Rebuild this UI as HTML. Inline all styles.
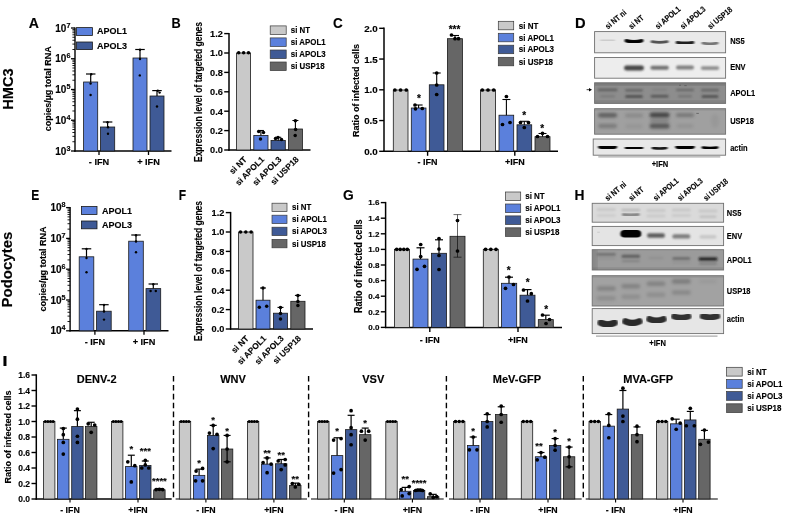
<!DOCTYPE html>
<html><head><meta charset="utf-8"><title>Figure</title>
<style>html,body{margin:0;padding:0;background:#fff}svg{display:block}text{font-family:"Liberation Sans",sans-serif;fill:#000;stroke:#000;stroke-width:0.15px}</style>
</head><body>
<svg width="787" height="516" viewBox="0 0 787 516">
<rect width="787" height="516" fill="#fff"/>
<g opacity="0.999">
<text x="13" y="89" font-size="14.6" font-weight="bold" text-anchor="middle" transform="rotate(-90 13 89)" >HMC3</text>
<text x="12.3" y="269.6" font-size="15" font-weight="bold" text-anchor="middle" transform="rotate(-90 12.3 269.6)" >Podocytes</text>
<text transform="translate(28.7 27.7) scale(0.94 1)" font-size="15" font-weight="bold" stroke="#000" stroke-width="0.45">A</text>
<text transform="translate(171.6 27.7) scale(0.85 1)" font-size="15" font-weight="bold" stroke="#000" stroke-width="0.45">B</text>
<text transform="translate(333 27.7) scale(0.9 1)" font-size="15" font-weight="bold" stroke="#000" stroke-width="0.45">C</text>
<text transform="translate(575 27.7) scale(0.98 1)" font-size="15" font-weight="bold" stroke="#000" stroke-width="0.45">D</text>
<text transform="translate(31.2 199.5) scale(0.8 1)" font-size="15" font-weight="bold" stroke="#000" stroke-width="0.45">E</text>
<text transform="translate(178.8 199.5) scale(0.8 1)" font-size="15" font-weight="bold" stroke="#000" stroke-width="0.45">F</text>
<text transform="translate(343 200) scale(0.92 1)" font-size="15" font-weight="bold" stroke="#000" stroke-width="0.45">G</text>
<text transform="translate(574.4 200) scale(0.92 1)" font-size="15" font-weight="bold" stroke="#000" stroke-width="0.45">H</text>
<text transform="translate(2.2 365.7) scale(1.3 1)" font-size="15" font-weight="bold" stroke="#000" stroke-width="0.45">I</text>
<line x1="75" y1="27.4" x2="75" y2="151.7" stroke="#000" stroke-width="1.4" />
<line x1="74.3" y1="151" x2="171.5" y2="151" stroke="#000" stroke-width="1.4" />
<line x1="71" y1="28.0" x2="75" y2="28.0" stroke="#000" stroke-width="1.3" />
<text x="70.4" y="31.6" font-size="10" font-weight="bold" text-anchor="end">10<tspan font-size="7.2" dy="-4">7</tspan></text>
<line x1="72.4" y1="49.49332763333258" x2="75" y2="49.49332763333258" stroke="#000" stroke-width="0.9" />
<line x1="72.4" y1="44.07852141737038" x2="75" y2="44.07852141737038" stroke="#000" stroke-width="0.9" />
<line x1="72.4" y1="40.23665526666515" x2="75" y2="40.23665526666515" stroke="#000" stroke-width="0.9" />
<line x1="72.4" y1="37.256672366667416" x2="75" y2="37.256672366667416" stroke="#000" stroke-width="0.9" />
<line x1="72.4" y1="34.82184905070296" x2="75" y2="34.82184905070296" stroke="#000" stroke-width="0.9" />
<line x1="72.4" y1="32.763235269561605" x2="75" y2="32.763235269561605" stroke="#000" stroke-width="0.9" />
<line x1="72.4" y1="30.979982899997736" x2="75" y2="30.979982899997736" stroke="#000" stroke-width="0.9" />
<line x1="72.4" y1="29.40704283474076" x2="75" y2="29.40704283474076" stroke="#000" stroke-width="0.9" />
<line x1="71" y1="58.75" x2="75" y2="58.75" stroke="#000" stroke-width="1.3" />
<text x="70.4" y="62.35" font-size="10" font-weight="bold" text-anchor="end">10<tspan font-size="7.2" dy="-4">6</tspan></text>
<line x1="72.4" y1="80.24332763333258" x2="75" y2="80.24332763333258" stroke="#000" stroke-width="0.9" />
<line x1="72.4" y1="74.82852141737038" x2="75" y2="74.82852141737038" stroke="#000" stroke-width="0.9" />
<line x1="72.4" y1="70.98665526666515" x2="75" y2="70.98665526666515" stroke="#000" stroke-width="0.9" />
<line x1="72.4" y1="68.00667236666742" x2="75" y2="68.00667236666742" stroke="#000" stroke-width="0.9" />
<line x1="72.4" y1="65.57184905070295" x2="75" y2="65.57184905070295" stroke="#000" stroke-width="0.9" />
<line x1="72.4" y1="63.513235269561605" x2="75" y2="63.513235269561605" stroke="#000" stroke-width="0.9" />
<line x1="72.4" y1="61.72998289999774" x2="75" y2="61.72998289999774" stroke="#000" stroke-width="0.9" />
<line x1="72.4" y1="60.157042834740764" x2="75" y2="60.157042834740764" stroke="#000" stroke-width="0.9" />
<line x1="71" y1="89.5" x2="75" y2="89.5" stroke="#000" stroke-width="1.3" />
<text x="70.4" y="93.1" font-size="10" font-weight="bold" text-anchor="end">10<tspan font-size="7.2" dy="-4">5</tspan></text>
<line x1="72.4" y1="110.99332763333258" x2="75" y2="110.99332763333258" stroke="#000" stroke-width="0.9" />
<line x1="72.4" y1="105.57852141737038" x2="75" y2="105.57852141737038" stroke="#000" stroke-width="0.9" />
<line x1="72.4" y1="101.73665526666515" x2="75" y2="101.73665526666515" stroke="#000" stroke-width="0.9" />
<line x1="72.4" y1="98.75667236666742" x2="75" y2="98.75667236666742" stroke="#000" stroke-width="0.9" />
<line x1="72.4" y1="96.32184905070295" x2="75" y2="96.32184905070295" stroke="#000" stroke-width="0.9" />
<line x1="72.4" y1="94.2632352695616" x2="75" y2="94.2632352695616" stroke="#000" stroke-width="0.9" />
<line x1="72.4" y1="92.47998289999774" x2="75" y2="92.47998289999774" stroke="#000" stroke-width="0.9" />
<line x1="72.4" y1="90.90704283474076" x2="75" y2="90.90704283474076" stroke="#000" stroke-width="0.9" />
<line x1="71" y1="120.25" x2="75" y2="120.25" stroke="#000" stroke-width="1.3" />
<text x="70.4" y="123.85" font-size="10" font-weight="bold" text-anchor="end">10<tspan font-size="7.2" dy="-4">4</tspan></text>
<line x1="72.4" y1="141.74332763333257" x2="75" y2="141.74332763333257" stroke="#000" stroke-width="0.9" />
<line x1="72.4" y1="136.32852141737038" x2="75" y2="136.32852141737038" stroke="#000" stroke-width="0.9" />
<line x1="72.4" y1="132.48665526666517" x2="75" y2="132.48665526666517" stroke="#000" stroke-width="0.9" />
<line x1="72.4" y1="129.50667236666743" x2="75" y2="129.50667236666743" stroke="#000" stroke-width="0.9" />
<line x1="72.4" y1="127.07184905070295" x2="75" y2="127.07184905070295" stroke="#000" stroke-width="0.9" />
<line x1="72.4" y1="125.0132352695616" x2="75" y2="125.0132352695616" stroke="#000" stroke-width="0.9" />
<line x1="72.4" y1="123.22998289999774" x2="75" y2="123.22998289999774" stroke="#000" stroke-width="0.9" />
<line x1="72.4" y1="121.65704283474076" x2="75" y2="121.65704283474076" stroke="#000" stroke-width="0.9" />
<line x1="71" y1="151.0" x2="75" y2="151.0" stroke="#000" stroke-width="1.3" />
<text x="70.4" y="154.6" font-size="10" font-weight="bold" text-anchor="end">10<tspan font-size="7.2" dy="-4">3</tspan></text>
<line x1="99" y1="151" x2="99" y2="155" stroke="#000" stroke-width="1.3" />
<text x="99" y="165.2" font-size="9.2" font-weight="bold" text-anchor="middle" >- IFN</text>
<line x1="148.5" y1="151" x2="148.5" y2="155" stroke="#000" stroke-width="1.3" />
<text x="148.5" y="165.2" font-size="9.2" font-weight="bold" text-anchor="middle" >+ IFN</text>
<rect x="83.60" y="82.00" width="14.10" height="69.00" fill="#5b80dc" stroke="#1a1a1a" stroke-width="0.8" />
<rect x="100.50" y="127.00" width="14.20" height="24.00" fill="#3f5a96" stroke="#1a1a1a" stroke-width="0.8" />
<rect x="133.00" y="58.00" width="14.00" height="93.00" fill="#5b80dc" stroke="#1a1a1a" stroke-width="0.8" />
<rect x="150.00" y="96.00" width="14.00" height="55.00" fill="#3f5a96" stroke="#1a1a1a" stroke-width="0.8" />
<line x1="90.7" y1="74" x2="90.7" y2="82" stroke="#000" stroke-width="1.2" />
<line x1="85.95" y1="74" x2="95.45" y2="74" stroke="#000" stroke-width="1.2" />
<line x1="107.6" y1="122" x2="107.6" y2="127" stroke="#000" stroke-width="1.2" />
<line x1="102.85" y1="122" x2="112.35" y2="122" stroke="#000" stroke-width="1.2" />
<line x1="140" y1="49.5" x2="140" y2="58" stroke="#000" stroke-width="1.2" />
<line x1="135.25" y1="49.5" x2="144.75" y2="49.5" stroke="#000" stroke-width="1.2" />
<line x1="157" y1="90.6" x2="157" y2="96" stroke="#000" stroke-width="1.2" />
<line x1="152.25" y1="90.6" x2="161.75" y2="90.6" stroke="#000" stroke-width="1.2" />
<circle cx="90.60" cy="83.50" r="1.2" fill="#000"/>
<circle cx="90.60" cy="95.00" r="1.2" fill="#000"/>
<circle cx="91.20" cy="74.30" r="1.2" fill="#000"/>
<circle cx="108.00" cy="133.70" r="1.2" fill="#000"/>
<circle cx="108.00" cy="127.20" r="1.2" fill="#000"/>
<circle cx="107.50" cy="122.30" r="1.2" fill="#000"/>
<circle cx="140.00" cy="59.00" r="1.2" fill="#000"/>
<circle cx="139.80" cy="75.40" r="1.2" fill="#000"/>
<circle cx="140.00" cy="49.80" r="1.2" fill="#000"/>
<circle cx="157.00" cy="106.50" r="1.2" fill="#000"/>
<circle cx="159.60" cy="92.60" r="1.2" fill="#000"/>
<circle cx="157.80" cy="90.80" r="1.2" fill="#000"/>
<rect x="76.50" y="27.60" width="15.90" height="7.80" fill="#5b80dc" stroke="#1a1a1a" stroke-width="0.8" />
<text x="97" y="34.2" font-size="9" font-weight="bold" text-anchor="start" >APOL1</text>
<rect x="76.50" y="42.00" width="15.90" height="7.60" fill="#3f5a96" stroke="#1a1a1a" stroke-width="0.8" />
<text x="97" y="48.7" font-size="9" font-weight="bold" text-anchor="start" >APOL3</text>
<text x="50.6" y="88.8" font-size="9.8" font-weight="bold" text-anchor="middle" transform="rotate(-90 50.6 88.8)" textLength="85" lengthAdjust="spacingAndGlyphs" stroke="#000" stroke-width="0.2">copies/µg total RNA</text>
<line x1="70.1" y1="207.0" x2="70.1" y2="331.5" stroke="#000" stroke-width="1.4" />
<line x1="69.39999999999999" y1="330.8" x2="168.5" y2="330.8" stroke="#000" stroke-width="1.4" />
<line x1="66.1" y1="207.6" x2="70.1" y2="207.6" stroke="#000" stroke-width="1.3" />
<text x="65.5" y="211.2" font-size="10" font-weight="bold" text-anchor="end">10<tspan font-size="7.2" dy="-4">8</tspan></text>
<line x1="67.5" y1="229.12827613354938" x2="70.1" y2="229.12827613354938" stroke="#000" stroke-width="0.9" />
<line x1="67.5" y1="223.70466535463441" x2="70.1" y2="223.70466535463441" stroke="#000" stroke-width="0.9" />
<line x1="67.5" y1="219.85655226709875" x2="70.1" y2="219.85655226709875" stroke="#000" stroke-width="0.9" />
<line x1="67.5" y1="216.87172386645062" x2="70.1" y2="216.87172386645062" stroke="#000" stroke-width="0.9" />
<line x1="67.5" y1="214.4329414881838" x2="70.1" y2="214.4329414881838" stroke="#000" stroke-width="0.9" />
<line x1="67.5" y1="212.3709803675609" x2="70.1" y2="212.3709803675609" stroke="#000" stroke-width="0.9" />
<line x1="67.5" y1="210.58482840064815" x2="70.1" y2="210.58482840064815" stroke="#000" stroke-width="0.9" />
<line x1="67.5" y1="209.0093307092688" x2="70.1" y2="209.0093307092688" stroke="#000" stroke-width="0.9" />
<line x1="66.1" y1="238.4" x2="70.1" y2="238.4" stroke="#000" stroke-width="1.3" />
<text x="65.5" y="242.0" font-size="10" font-weight="bold" text-anchor="end">10<tspan font-size="7.2" dy="-4">7</tspan></text>
<line x1="67.5" y1="259.9282761335494" x2="70.1" y2="259.9282761335494" stroke="#000" stroke-width="0.9" />
<line x1="67.5" y1="254.50466535463437" x2="70.1" y2="254.50466535463437" stroke="#000" stroke-width="0.9" />
<line x1="67.5" y1="250.65655226709873" x2="70.1" y2="250.65655226709873" stroke="#000" stroke-width="0.9" />
<line x1="67.5" y1="247.6717238664506" x2="70.1" y2="247.6717238664506" stroke="#000" stroke-width="0.9" />
<line x1="67.5" y1="245.23294148818377" x2="70.1" y2="245.23294148818377" stroke="#000" stroke-width="0.9" />
<line x1="67.5" y1="243.17098036756087" x2="70.1" y2="243.17098036756087" stroke="#000" stroke-width="0.9" />
<line x1="67.5" y1="241.38482840064813" x2="70.1" y2="241.38482840064813" stroke="#000" stroke-width="0.9" />
<line x1="67.5" y1="239.80933070926878" x2="70.1" y2="239.80933070926878" stroke="#000" stroke-width="0.9" />
<line x1="66.1" y1="269.2" x2="70.1" y2="269.2" stroke="#000" stroke-width="1.3" />
<text x="65.5" y="272.8" font-size="10" font-weight="bold" text-anchor="end">10<tspan font-size="7.2" dy="-4">6</tspan></text>
<line x1="67.5" y1="290.7282761335494" x2="70.1" y2="290.7282761335494" stroke="#000" stroke-width="0.9" />
<line x1="67.5" y1="285.3046653546344" x2="70.1" y2="285.3046653546344" stroke="#000" stroke-width="0.9" />
<line x1="67.5" y1="281.45655226709874" x2="70.1" y2="281.45655226709874" stroke="#000" stroke-width="0.9" />
<line x1="67.5" y1="278.4717238664506" x2="70.1" y2="278.4717238664506" stroke="#000" stroke-width="0.9" />
<line x1="67.5" y1="276.0329414881838" x2="70.1" y2="276.0329414881838" stroke="#000" stroke-width="0.9" />
<line x1="67.5" y1="273.9709803675609" x2="70.1" y2="273.9709803675609" stroke="#000" stroke-width="0.9" />
<line x1="67.5" y1="272.18482840064814" x2="70.1" y2="272.18482840064814" stroke="#000" stroke-width="0.9" />
<line x1="67.5" y1="270.60933070926876" x2="70.1" y2="270.60933070926876" stroke="#000" stroke-width="0.9" />
<line x1="66.1" y1="300.0" x2="70.1" y2="300.0" stroke="#000" stroke-width="1.3" />
<text x="65.5" y="303.6" font-size="10" font-weight="bold" text-anchor="end">10<tspan font-size="7.2" dy="-4">5</tspan></text>
<line x1="67.5" y1="321.5282761335494" x2="70.1" y2="321.5282761335494" stroke="#000" stroke-width="0.9" />
<line x1="67.5" y1="316.1046653546344" x2="70.1" y2="316.1046653546344" stroke="#000" stroke-width="0.9" />
<line x1="67.5" y1="312.25655226709875" x2="70.1" y2="312.25655226709875" stroke="#000" stroke-width="0.9" />
<line x1="67.5" y1="309.27172386645066" x2="70.1" y2="309.27172386645066" stroke="#000" stroke-width="0.9" />
<line x1="67.5" y1="306.8329414881838" x2="70.1" y2="306.8329414881838" stroke="#000" stroke-width="0.9" />
<line x1="67.5" y1="304.7709803675609" x2="70.1" y2="304.7709803675609" stroke="#000" stroke-width="0.9" />
<line x1="67.5" y1="302.98482840064815" x2="70.1" y2="302.98482840064815" stroke="#000" stroke-width="0.9" />
<line x1="67.5" y1="301.40933070926883" x2="70.1" y2="301.40933070926883" stroke="#000" stroke-width="0.9" />
<line x1="66.1" y1="330.8" x2="70.1" y2="330.8" stroke="#000" stroke-width="1.3" />
<text x="65.5" y="334.40000000000003" font-size="10" font-weight="bold" text-anchor="end">10<tspan font-size="7.2" dy="-4">4</tspan></text>
<line x1="94.9" y1="330.8" x2="94.9" y2="334.8" stroke="#000" stroke-width="1.3" />
<text x="94.9" y="345.0" font-size="9.2" font-weight="bold" text-anchor="middle" >- IFN</text>
<line x1="144" y1="330.8" x2="144" y2="334.8" stroke="#000" stroke-width="1.3" />
<text x="144" y="345.0" font-size="9.2" font-weight="bold" text-anchor="middle" >+ IFN</text>
<rect x="79.20" y="256.80" width="14.60" height="74.00" fill="#5b80dc" stroke="#1a1a1a" stroke-width="0.8" />
<rect x="96.60" y="311.20" width="14.60" height="19.60" fill="#3f5a96" stroke="#1a1a1a" stroke-width="0.8" />
<rect x="128.70" y="241.20" width="14.60" height="89.60" fill="#5b80dc" stroke="#1a1a1a" stroke-width="0.8" />
<rect x="146.00" y="288.60" width="14.70" height="42.20" fill="#3f5a96" stroke="#1a1a1a" stroke-width="0.8" />
<line x1="86.5" y1="248.8" x2="86.5" y2="256.8" stroke="#000" stroke-width="1.2" />
<line x1="81.75" y1="248.8" x2="91.25" y2="248.8" stroke="#000" stroke-width="1.2" />
<line x1="103.9" y1="304.7" x2="103.9" y2="311.2" stroke="#000" stroke-width="1.2" />
<line x1="99.15" y1="304.7" x2="108.65" y2="304.7" stroke="#000" stroke-width="1.2" />
<line x1="136" y1="235" x2="136" y2="241.2" stroke="#000" stroke-width="1.2" />
<line x1="131.25" y1="235" x2="140.75" y2="235" stroke="#000" stroke-width="1.2" />
<line x1="153.3" y1="284" x2="153.3" y2="288.6" stroke="#000" stroke-width="1.2" />
<line x1="148.55" y1="284" x2="158.05" y2="284" stroke="#000" stroke-width="1.2" />
<circle cx="86.50" cy="258.00" r="1.2" fill="#000"/>
<circle cx="86.50" cy="272.30" r="1.2" fill="#000"/>
<circle cx="86.50" cy="249.00" r="1.2" fill="#000"/>
<circle cx="104.00" cy="319.60" r="1.2" fill="#000"/>
<circle cx="104.00" cy="311.50" r="1.2" fill="#000"/>
<circle cx="104.00" cy="305.00" r="1.2" fill="#000"/>
<circle cx="136.00" cy="252.30" r="1.2" fill="#000"/>
<circle cx="136.00" cy="241.50" r="1.2" fill="#000"/>
<circle cx="136.00" cy="235.20" r="1.2" fill="#000"/>
<circle cx="150.60" cy="291.00" r="1.2" fill="#000"/>
<circle cx="155.80" cy="291.00" r="1.2" fill="#000"/>
<circle cx="153.30" cy="284.30" r="1.2" fill="#000"/>
<rect x="81.40" y="206.50" width="15.60" height="8.00" fill="#5b80dc" stroke="#1a1a1a" stroke-width="0.8" />
<text x="102" y="213.6" font-size="9" font-weight="bold" text-anchor="start" >APOL1</text>
<rect x="81.40" y="221.00" width="15.60" height="7.80" fill="#3f5a96" stroke="#1a1a1a" stroke-width="0.8" />
<text x="102" y="228" font-size="9" font-weight="bold" text-anchor="start" >APOL3</text>
<text x="46.2" y="269" font-size="9.8" font-weight="bold" text-anchor="middle" transform="rotate(-90 46.2 269)" textLength="85" lengthAdjust="spacingAndGlyphs" stroke="#000" stroke-width="0.2">copies/µg total RNA</text>
<line x1="229" y1="32.9" x2="229" y2="150.7" stroke="#000" stroke-width="1.5" />
<line x1="228.4" y1="150" x2="310.5" y2="150" stroke="#000" stroke-width="1.5" />
<line x1="224.2" y1="150.0" x2="229" y2="150.0" stroke="#000" stroke-width="1.4" />
<text x="222.79999999999998" y="153.312" font-size="9.2" font-weight="bold" text-anchor="end" >0.0</text>
<line x1="224.2" y1="130.6" x2="229" y2="130.6" stroke="#000" stroke-width="1.4" />
<text x="222.79999999999998" y="133.912" font-size="9.2" font-weight="bold" text-anchor="end" >0.2</text>
<line x1="224.2" y1="111.19999999999999" x2="229" y2="111.19999999999999" stroke="#000" stroke-width="1.4" />
<text x="222.79999999999998" y="114.51199999999999" font-size="9.2" font-weight="bold" text-anchor="end" >0.4</text>
<line x1="224.2" y1="91.79999999999998" x2="229" y2="91.79999999999998" stroke="#000" stroke-width="1.4" />
<text x="222.79999999999998" y="95.11199999999998" font-size="9.2" font-weight="bold" text-anchor="end" >0.6</text>
<line x1="224.2" y1="72.39999999999999" x2="229" y2="72.39999999999999" stroke="#000" stroke-width="1.4" />
<text x="222.79999999999998" y="75.71199999999999" font-size="9.2" font-weight="bold" text-anchor="end" >0.8</text>
<line x1="224.2" y1="53.0" x2="229" y2="53.0" stroke="#000" stroke-width="1.4" />
<text x="222.79999999999998" y="56.312" font-size="9.2" font-weight="bold" text-anchor="end" >1.0</text>
<line x1="224.2" y1="33.59999999999998" x2="229" y2="33.59999999999998" stroke="#000" stroke-width="1.4" />
<text x="222.79999999999998" y="36.91199999999998" font-size="9.2" font-weight="bold" text-anchor="end" >1.2</text>
<rect x="236.50" y="53.00" width="14.10" height="97.00" fill="#c9c9c9" stroke="#1a1a1a" stroke-width="0.8" />
<rect x="253.80" y="135.40" width="14.20" height="14.60" fill="#5b80dc" stroke="#1a1a1a" stroke-width="0.8" />
<rect x="271.00" y="140.40" width="14.30" height="9.60" fill="#3f5a96" stroke="#1a1a1a" stroke-width="0.8" />
<rect x="288.40" y="129.00" width="14.00" height="21.00" fill="#666666" stroke="#1a1a1a" stroke-width="0.8" />
<line x1="260.9" y1="130.5" x2="260.9" y2="135.4" stroke="#000" stroke-width="1.1" />
<line x1="257.9" y1="130.5" x2="263.9" y2="130.5" stroke="#000" stroke-width="1.1" />
<line x1="278.2" y1="137.3" x2="278.2" y2="140.4" stroke="#000" stroke-width="1.1" />
<line x1="275.2" y1="137.3" x2="281.2" y2="137.3" stroke="#000" stroke-width="1.1" />
<line x1="295.4" y1="120.5" x2="295.4" y2="129" stroke="#000" stroke-width="1.1" />
<line x1="292.4" y1="120.5" x2="298.4" y2="120.5" stroke="#000" stroke-width="1.1" />
<circle cx="238.70" cy="52.80" r="1.75" fill="#000"/>
<circle cx="243.60" cy="52.80" r="1.75" fill="#000"/>
<circle cx="248.50" cy="52.80" r="1.75" fill="#000"/>
<circle cx="258.70" cy="131.50" r="1.75" fill="#000"/>
<circle cx="263.50" cy="132.50" r="1.75" fill="#000"/>
<circle cx="260.50" cy="139.00" r="1.75" fill="#000"/>
<circle cx="275.50" cy="138.50" r="1.75" fill="#000"/>
<circle cx="281.50" cy="139.50" r="1.75" fill="#000"/>
<circle cx="278.00" cy="137.50" r="1.75" fill="#000"/>
<circle cx="295.40" cy="120.70" r="1.75" fill="#000"/>
<circle cx="295.60" cy="129.50" r="1.75" fill="#000"/>
<circle cx="295.20" cy="135.50" r="1.75" fill="#000"/>
<rect x="270.20" y="25.90" width="16.00" height="8.60" fill="#c9c9c9" stroke="#3a3a3a" stroke-width="0.7" />
<text transform="translate(290.8 33.20) scale(0.925 1)" font-size="8.55" font-weight="bold" stroke="#000" stroke-width="0.18">si NT</text>
<rect x="270.20" y="37.90" width="16.00" height="8.60" fill="#5b80dc" stroke="#3a3a3a" stroke-width="0.7" />
<text transform="translate(290.8 45.20) scale(0.925 1)" font-size="8.55" font-weight="bold" stroke="#000" stroke-width="0.18">si APOL1</text>
<rect x="270.20" y="50.00" width="16.00" height="8.60" fill="#3f5a96" stroke="#3a3a3a" stroke-width="0.7" />
<text transform="translate(290.8 57.30) scale(0.925 1)" font-size="8.55" font-weight="bold" stroke="#000" stroke-width="0.18">si APOL3</text>
<rect x="270.20" y="62.00" width="16.00" height="8.60" fill="#666666" stroke="#3a3a3a" stroke-width="0.7" />
<text transform="translate(290.8 69.30) scale(0.925 1)" font-size="8.55" font-weight="bold" stroke="#000" stroke-width="0.18">si USP18</text>
<text x="247.3" y="160" font-size="8.4" font-weight="bold" text-anchor="end" transform="rotate(-45 247.3 160)" >si NT</text>
<text x="264.8" y="160" font-size="8.4" font-weight="bold" text-anchor="end" transform="rotate(-45 264.8 160)" >si APOL1</text>
<text x="282.1" y="160" font-size="8.4" font-weight="bold" text-anchor="end" transform="rotate(-45 282.1 160)" >si APOL3</text>
<text x="299.3" y="160" font-size="8.4" font-weight="bold" text-anchor="end" transform="rotate(-45 299.3 160)" >si USP18</text>
<text x="202" y="92" font-size="10" font-weight="bold" text-anchor="middle" transform="rotate(-90 202 92)" textLength="140" lengthAdjust="spacingAndGlyphs" stroke="#000" stroke-width="0.25">Expression level of targeted genes</text>
<line x1="230.6" y1="211.9" x2="230.6" y2="329.7" stroke="#000" stroke-width="1.5" />
<line x1="230" y1="329" x2="313" y2="329" stroke="#000" stroke-width="1.5" />
<line x1="225.79999999999998" y1="329.0" x2="230.6" y2="329.0" stroke="#000" stroke-width="1.4" />
<text x="224.39999999999998" y="332.312" font-size="9.2" font-weight="bold" text-anchor="end" >0.0</text>
<line x1="225.79999999999998" y1="309.6" x2="230.6" y2="309.6" stroke="#000" stroke-width="1.4" />
<text x="224.39999999999998" y="312.91200000000003" font-size="9.2" font-weight="bold" text-anchor="end" >0.2</text>
<line x1="225.79999999999998" y1="290.2" x2="230.6" y2="290.2" stroke="#000" stroke-width="1.4" />
<text x="224.39999999999998" y="293.512" font-size="9.2" font-weight="bold" text-anchor="end" >0.4</text>
<line x1="225.79999999999998" y1="270.8" x2="230.6" y2="270.8" stroke="#000" stroke-width="1.4" />
<text x="224.39999999999998" y="274.112" font-size="9.2" font-weight="bold" text-anchor="end" >0.6</text>
<line x1="225.79999999999998" y1="251.39999999999998" x2="230.6" y2="251.39999999999998" stroke="#000" stroke-width="1.4" />
<text x="224.39999999999998" y="254.712" font-size="9.2" font-weight="bold" text-anchor="end" >0.8</text>
<line x1="225.79999999999998" y1="232.0" x2="230.6" y2="232.0" stroke="#000" stroke-width="1.4" />
<text x="224.39999999999998" y="235.312" font-size="9.2" font-weight="bold" text-anchor="end" >1.0</text>
<line x1="225.79999999999998" y1="212.59999999999997" x2="230.6" y2="212.59999999999997" stroke="#000" stroke-width="1.4" />
<text x="224.39999999999998" y="215.91199999999998" font-size="9.2" font-weight="bold" text-anchor="end" >1.2</text>
<rect x="238.60" y="232.00" width="14.40" height="97.00" fill="#c9c9c9" stroke="#1a1a1a" stroke-width="0.8" />
<rect x="256.00" y="300.20" width="14.00" height="28.80" fill="#5b80dc" stroke="#1a1a1a" stroke-width="0.8" />
<rect x="273.40" y="313.20" width="14.10" height="15.80" fill="#3f5a96" stroke="#1a1a1a" stroke-width="0.8" />
<rect x="290.80" y="301.30" width="14.20" height="27.70" fill="#666666" stroke="#1a1a1a" stroke-width="0.8" />
<line x1="263" y1="288" x2="263" y2="300.2" stroke="#000" stroke-width="1.1" />
<line x1="260.0" y1="288" x2="266.0" y2="288" stroke="#000" stroke-width="1.1" />
<line x1="280.5" y1="307.4" x2="280.5" y2="313.2" stroke="#000" stroke-width="1.1" />
<line x1="277.5" y1="307.4" x2="283.5" y2="307.4" stroke="#000" stroke-width="1.1" />
<line x1="297.9" y1="295.4" x2="297.9" y2="301.3" stroke="#000" stroke-width="1.1" />
<line x1="294.9" y1="295.4" x2="300.9" y2="295.4" stroke="#000" stroke-width="1.1" />
<circle cx="240.50" cy="232.00" r="1.75" fill="#000"/>
<circle cx="245.80" cy="232.00" r="1.75" fill="#000"/>
<circle cx="251.10" cy="232.00" r="1.75" fill="#000"/>
<circle cx="263.00" cy="288.00" r="1.75" fill="#000"/>
<circle cx="259.30" cy="307.30" r="1.75" fill="#000"/>
<circle cx="266.70" cy="306.30" r="1.75" fill="#000"/>
<circle cx="280.50" cy="307.50" r="1.75" fill="#000"/>
<circle cx="280.50" cy="319.00" r="1.75" fill="#000"/>
<circle cx="280.50" cy="313.50" r="1.75" fill="#000"/>
<circle cx="297.90" cy="295.50" r="1.75" fill="#000"/>
<circle cx="297.90" cy="301.50" r="1.75" fill="#000"/>
<circle cx="297.90" cy="305.50" r="1.75" fill="#000"/>
<rect x="272.00" y="203.20" width="15.00" height="8.40" fill="#c9c9c9" stroke="#3a3a3a" stroke-width="0.7" />
<text transform="translate(292 210.30) scale(0.925 1)" font-size="8.55" font-weight="bold" stroke="#000" stroke-width="0.18">si NT</text>
<rect x="272.00" y="215.20" width="15.00" height="8.40" fill="#5b80dc" stroke="#3a3a3a" stroke-width="0.7" />
<text transform="translate(292 222.30) scale(0.925 1)" font-size="8.55" font-weight="bold" stroke="#000" stroke-width="0.18">si APOL1</text>
<rect x="272.00" y="227.20" width="15.00" height="8.40" fill="#3f5a96" stroke="#3a3a3a" stroke-width="0.7" />
<text transform="translate(292 234.30) scale(0.925 1)" font-size="8.55" font-weight="bold" stroke="#000" stroke-width="0.18">si APOL3</text>
<rect x="272.00" y="239.40" width="15.00" height="8.40" fill="#666666" stroke="#3a3a3a" stroke-width="0.7" />
<text transform="translate(292 246.50) scale(0.925 1)" font-size="8.55" font-weight="bold" stroke="#000" stroke-width="0.18">si USP18</text>
<text x="249.3" y="339" font-size="8.4" font-weight="bold" text-anchor="end" transform="rotate(-45 249.3 339)" >si NT</text>
<text x="266.8" y="339" font-size="8.4" font-weight="bold" text-anchor="end" transform="rotate(-45 266.8 339)" >si APOL1</text>
<text x="284.3" y="339" font-size="8.4" font-weight="bold" text-anchor="end" transform="rotate(-45 284.3 339)" >si APOL3</text>
<text x="301.5" y="339" font-size="8.4" font-weight="bold" text-anchor="end" transform="rotate(-45 301.5 339)" >si USP18</text>
<text x="202" y="271" font-size="10" font-weight="bold" text-anchor="middle" transform="rotate(-90 202 271)" textLength="140" lengthAdjust="spacingAndGlyphs" stroke="#000" stroke-width="0.25">Expression level of targeted genes</text>
<line x1="384" y1="27.6" x2="384" y2="152.0" stroke="#000" stroke-width="1.5" />
<line x1="383.3" y1="151.3" x2="558" y2="151.3" stroke="#000" stroke-width="1.5" />
<line x1="379.2" y1="151.3" x2="384" y2="151.3" stroke="#000" stroke-width="1.4" />
<text x="377.8" y="154.828" font-size="9.8" font-weight="bold" text-anchor="end" >0.0</text>
<line x1="379.2" y1="120.55000000000001" x2="384" y2="120.55000000000001" stroke="#000" stroke-width="1.4" />
<text x="377.8" y="124.07800000000002" font-size="9.8" font-weight="bold" text-anchor="end" >0.5</text>
<line x1="379.2" y1="89.80000000000001" x2="384" y2="89.80000000000001" stroke="#000" stroke-width="1.4" />
<text x="377.8" y="93.32800000000002" font-size="9.8" font-weight="bold" text-anchor="end" >1.0</text>
<line x1="379.2" y1="59.05" x2="384" y2="59.05" stroke="#000" stroke-width="1.4" />
<text x="377.8" y="62.577999999999996" font-size="9.8" font-weight="bold" text-anchor="end" >1.5</text>
<line x1="379.2" y1="28.299999999999997" x2="384" y2="28.299999999999997" stroke="#000" stroke-width="1.4" />
<text x="377.8" y="31.827999999999996" font-size="9.8" font-weight="bold" text-anchor="end" >2.0</text>
<rect x="393.30" y="90.00" width="14.70" height="61.30" fill="#c9c9c9" stroke="#1a1a1a" stroke-width="0.8" />
<rect x="411.30" y="108.00" width="14.70" height="43.30" fill="#5b80dc" stroke="#1a1a1a" stroke-width="0.8" />
<rect x="429.30" y="84.80" width="14.70" height="66.50" fill="#3f5a96" stroke="#1a1a1a" stroke-width="0.8" />
<rect x="447.40" y="38.70" width="15.00" height="112.60" fill="#666666" stroke="#1a1a1a" stroke-width="0.8" />
<rect x="480.40" y="90.00" width="15.20" height="61.30" fill="#c9c9c9" stroke="#1a1a1a" stroke-width="0.8" />
<rect x="499.00" y="115.20" width="14.70" height="36.10" fill="#5b80dc" stroke="#1a1a1a" stroke-width="0.8" />
<rect x="517.00" y="124.80" width="14.70" height="26.50" fill="#3f5a96" stroke="#1a1a1a" stroke-width="0.8" />
<rect x="535.00" y="136.70" width="15.00" height="14.60" fill="#666666" stroke="#1a1a1a" stroke-width="0.8" />
<line x1="418.6" y1="105" x2="418.6" y2="108" stroke="#000" stroke-width="1.1" />
<line x1="414.6" y1="105" x2="422.6" y2="105" stroke="#000" stroke-width="1.1" />
<line x1="436.7" y1="73" x2="436.7" y2="84.8" stroke="#000" stroke-width="1.1" />
<line x1="432.7" y1="73" x2="440.7" y2="73" stroke="#000" stroke-width="1.1" />
<line x1="455" y1="35.5" x2="455" y2="38.7" stroke="#000" stroke-width="1.1" />
<line x1="451.0" y1="35.5" x2="459.0" y2="35.5" stroke="#000" stroke-width="1.1" />
<line x1="506.4" y1="99.5" x2="506.4" y2="115.2" stroke="#000" stroke-width="1.1" />
<line x1="502.4" y1="99.5" x2="510.4" y2="99.5" stroke="#000" stroke-width="1.1" />
<line x1="524.3" y1="121.3" x2="524.3" y2="124.8" stroke="#000" stroke-width="1.1" />
<line x1="520.3" y1="121.3" x2="528.3" y2="121.3" stroke="#000" stroke-width="1.1" />
<line x1="542.5" y1="133.5" x2="542.5" y2="136.7" stroke="#000" stroke-width="1.1" />
<line x1="538.5" y1="133.5" x2="546.5" y2="133.5" stroke="#000" stroke-width="1.1" />
<circle cx="394.90" cy="90.00" r="1.85" fill="#000"/>
<circle cx="400.60" cy="90.00" r="1.85" fill="#000"/>
<circle cx="406.30" cy="90.00" r="1.85" fill="#000"/>
<circle cx="415.00" cy="105.00" r="1.85" fill="#000"/>
<circle cx="415.50" cy="108.80" r="1.85" fill="#000"/>
<circle cx="422.30" cy="108.50" r="1.85" fill="#000"/>
<circle cx="436.70" cy="73.00" r="1.85" fill="#000"/>
<circle cx="436.70" cy="85.00" r="1.85" fill="#000"/>
<circle cx="436.70" cy="94.50" r="1.85" fill="#000"/>
<circle cx="451.50" cy="35.00" r="1.85" fill="#000"/>
<circle cx="455.00" cy="38.70" r="1.85" fill="#000"/>
<circle cx="458.50" cy="38.70" r="1.85" fill="#000"/>
<circle cx="482.30" cy="90.00" r="1.85" fill="#000"/>
<circle cx="488.00" cy="90.00" r="1.85" fill="#000"/>
<circle cx="493.70" cy="90.00" r="1.85" fill="#000"/>
<circle cx="506.40" cy="96.50" r="1.85" fill="#000"/>
<circle cx="502.50" cy="124.50" r="1.85" fill="#000"/>
<circle cx="510.00" cy="122.50" r="1.85" fill="#000"/>
<circle cx="520.50" cy="122.50" r="1.85" fill="#000"/>
<circle cx="528.50" cy="122.50" r="1.85" fill="#000"/>
<circle cx="524.30" cy="127.50" r="1.85" fill="#000"/>
<circle cx="537.50" cy="136.50" r="1.85" fill="#000"/>
<circle cx="547.50" cy="136.50" r="1.85" fill="#000"/>
<circle cx="542.50" cy="133.30" r="1.85" fill="#000"/>
<text x="419" y="101.7" font-size="10" font-weight="bold" text-anchor="middle" >*</text>
<text x="454.5" y="33.1" font-size="10" font-weight="bold" text-anchor="middle" >***</text>
<text x="524.3" y="119.4" font-size="10" font-weight="bold" text-anchor="middle" >*</text>
<text x="542.3" y="131.8" font-size="10" font-weight="bold" text-anchor="middle" >*</text>
<line x1="427.6" y1="151.3" x2="427.6" y2="155.8" stroke="#000" stroke-width="1.4" />
<text x="427.6" y="165.3" font-size="9" font-weight="bold" text-anchor="middle" >- IFN</text>
<line x1="514.8" y1="151.3" x2="514.8" y2="155.8" stroke="#000" stroke-width="1.4" />
<text x="514.8" y="165.3" font-size="9" font-weight="bold" text-anchor="middle" >+IFN</text>
<rect x="498.30" y="21.30" width="15.40" height="8.50" fill="#c9c9c9" stroke="#3a3a3a" stroke-width="0.7" />
<text transform="translate(518.8 28.50) scale(0.925 1)" font-size="8.65" font-weight="bold" stroke="#000" stroke-width="0.18">si NT</text>
<rect x="498.30" y="33.30" width="15.40" height="8.50" fill="#5b80dc" stroke="#3a3a3a" stroke-width="0.7" />
<text transform="translate(518.8 40.50) scale(0.925 1)" font-size="8.65" font-weight="bold" stroke="#000" stroke-width="0.18">si APOL1</text>
<rect x="498.30" y="45.20" width="15.40" height="8.50" fill="#3f5a96" stroke="#3a3a3a" stroke-width="0.7" />
<text transform="translate(518.8 52.40) scale(0.925 1)" font-size="8.65" font-weight="bold" stroke="#000" stroke-width="0.18">si APOL3</text>
<rect x="498.30" y="57.30" width="15.40" height="8.50" fill="#666666" stroke="#3a3a3a" stroke-width="0.7" />
<text transform="translate(518.8 64.50) scale(0.925 1)" font-size="8.65" font-weight="bold" stroke="#000" stroke-width="0.18">si USP18</text>
<text x="358.7" y="90.5" font-size="9.5" font-weight="bold" text-anchor="middle" transform="rotate(-90 358.7 90.5)" textLength="93" lengthAdjust="spacingAndGlyphs" stroke="#000" stroke-width="0.25">Ratio of infected cells</text>
<line x1="385.6" y1="201.9" x2="385.6" y2="328.09999999999997" stroke="#000" stroke-width="1.5" />
<line x1="385" y1="327.4" x2="562" y2="327.4" stroke="#000" stroke-width="1.5" />
<line x1="380.8" y1="327.4" x2="385.6" y2="327.4" stroke="#000" stroke-width="1.4" />
<text x="379.40000000000003" y="330.28" font-size="8" font-weight="bold" text-anchor="end" >0.0</text>
<line x1="380.8" y1="311.79999999999995" x2="385.6" y2="311.79999999999995" stroke="#000" stroke-width="1.4" />
<text x="379.40000000000003" y="314.67999999999995" font-size="8" font-weight="bold" text-anchor="end" >0.2</text>
<line x1="380.8" y1="296.2" x2="385.6" y2="296.2" stroke="#000" stroke-width="1.4" />
<text x="379.40000000000003" y="299.08" font-size="8" font-weight="bold" text-anchor="end" >0.4</text>
<line x1="380.8" y1="280.59999999999997" x2="385.6" y2="280.59999999999997" stroke="#000" stroke-width="1.4" />
<text x="379.40000000000003" y="283.47999999999996" font-size="8" font-weight="bold" text-anchor="end" >0.6</text>
<line x1="380.8" y1="265.0" x2="385.6" y2="265.0" stroke="#000" stroke-width="1.4" />
<text x="379.40000000000003" y="267.88" font-size="8" font-weight="bold" text-anchor="end" >0.8</text>
<line x1="380.8" y1="249.39999999999998" x2="385.6" y2="249.39999999999998" stroke="#000" stroke-width="1.4" />
<text x="379.40000000000003" y="252.27999999999997" font-size="8" font-weight="bold" text-anchor="end" >1.0</text>
<line x1="380.8" y1="233.79999999999998" x2="385.6" y2="233.79999999999998" stroke="#000" stroke-width="1.4" />
<text x="379.40000000000003" y="236.67999999999998" font-size="8" font-weight="bold" text-anchor="end" >1.2</text>
<line x1="380.8" y1="218.2" x2="385.6" y2="218.2" stroke="#000" stroke-width="1.4" />
<text x="379.40000000000003" y="221.07999999999998" font-size="8" font-weight="bold" text-anchor="end" >1.4</text>
<line x1="380.8" y1="202.6" x2="385.6" y2="202.6" stroke="#000" stroke-width="1.4" />
<text x="379.40000000000003" y="205.48" font-size="8" font-weight="bold" text-anchor="end" >1.6</text>
<rect x="394.50" y="249.30" width="15.00" height="78.10" fill="#c9c9c9" stroke="#1a1a1a" stroke-width="0.8" />
<rect x="413.00" y="259.10" width="15.00" height="68.30" fill="#5b80dc" stroke="#1a1a1a" stroke-width="0.8" />
<rect x="431.50" y="253.30" width="15.00" height="74.10" fill="#3f5a96" stroke="#1a1a1a" stroke-width="0.8" />
<rect x="450.00" y="236.30" width="15.00" height="91.10" fill="#666666" stroke="#1a1a1a" stroke-width="0.8" />
<rect x="483.30" y="249.30" width="15.00" height="78.10" fill="#c9c9c9" stroke="#1a1a1a" stroke-width="0.8" />
<rect x="501.50" y="283.30" width="15.20" height="44.10" fill="#5b80dc" stroke="#1a1a1a" stroke-width="0.8" />
<rect x="520.00" y="295.20" width="15.00" height="32.20" fill="#3f5a96" stroke="#1a1a1a" stroke-width="0.8" />
<rect x="538.30" y="319.60" width="15.00" height="7.80" fill="#666666" stroke="#1a1a1a" stroke-width="0.8" />
<line x1="420.5" y1="247.8" x2="420.5" y2="259.1" stroke="#000" stroke-width="1.2" />
<line x1="416.5" y1="247.8" x2="424.5" y2="247.8" stroke="#000" stroke-width="1.2" />
<line x1="439" y1="239.8" x2="439" y2="253.3" stroke="#000" stroke-width="1.2" />
<line x1="435.0" y1="239.8" x2="443.0" y2="239.8" stroke="#000" stroke-width="1.2" />
<line x1="457.5" y1="214.6" x2="457.5" y2="257.2" stroke="#000" stroke-width="0.6" />
<line x1="453.5" y1="214.6" x2="461.5" y2="214.6" stroke="#000" stroke-width="0.6" />
<line x1="453.5" y1="257.2" x2="461.5" y2="257.2" stroke="#000" stroke-width="0.6" />
<line x1="509" y1="277.2" x2="509" y2="283.3" stroke="#000" stroke-width="1.2" />
<line x1="505.0" y1="277.2" x2="513.0" y2="277.2" stroke="#000" stroke-width="1.2" />
<line x1="527.5" y1="289.6" x2="527.5" y2="295.2" stroke="#000" stroke-width="1.2" />
<line x1="523.5" y1="289.6" x2="531.5" y2="289.6" stroke="#000" stroke-width="1.2" />
<line x1="545.8" y1="315.2" x2="545.8" y2="319.6" stroke="#000" stroke-width="1.2" />
<line x1="541.8" y1="315.2" x2="549.8" y2="315.2" stroke="#000" stroke-width="1.2" />
<circle cx="396.70" cy="249.30" r="1.85" fill="#000"/>
<circle cx="400.20" cy="249.30" r="1.85" fill="#000"/>
<circle cx="403.80" cy="249.30" r="1.85" fill="#000"/>
<circle cx="407.30" cy="249.30" r="1.85" fill="#000"/>
<circle cx="420.70" cy="244.50" r="1.85" fill="#000"/>
<circle cx="420.70" cy="256.50" r="1.85" fill="#000"/>
<circle cx="417.00" cy="269.30" r="1.85" fill="#000"/>
<circle cx="424.50" cy="266.30" r="1.85" fill="#000"/>
<circle cx="439.00" cy="238.50" r="1.85" fill="#000"/>
<circle cx="439.00" cy="249.00" r="1.85" fill="#000"/>
<circle cx="439.00" cy="255.50" r="1.85" fill="#000"/>
<circle cx="439.00" cy="269.50" r="1.85" fill="#000"/>
<circle cx="457.50" cy="220.50" r="1.85" fill="#000"/>
<circle cx="457.50" cy="251.00" r="1.85" fill="#000"/>
<circle cx="485.60" cy="249.30" r="1.85" fill="#000"/>
<circle cx="490.80" cy="249.30" r="1.85" fill="#000"/>
<circle cx="496.00" cy="249.30" r="1.85" fill="#000"/>
<circle cx="509.00" cy="277.00" r="1.85" fill="#000"/>
<circle cx="505.50" cy="288.30" r="1.85" fill="#000"/>
<circle cx="513.50" cy="284.50" r="1.85" fill="#000"/>
<circle cx="523.50" cy="290.00" r="1.85" fill="#000"/>
<circle cx="531.30" cy="293.70" r="1.85" fill="#000"/>
<circle cx="527.50" cy="301.00" r="1.85" fill="#000"/>
<circle cx="542.50" cy="315.00" r="1.85" fill="#000"/>
<circle cx="549.50" cy="319.50" r="1.85" fill="#000"/>
<circle cx="546.00" cy="323.50" r="1.85" fill="#000"/>
<text x="508.7" y="274.0" font-size="10" font-weight="bold" text-anchor="middle" >*</text>
<text x="527.6" y="285.9" font-size="10" font-weight="bold" text-anchor="middle" >*</text>
<text x="546.3" y="313.1" font-size="10" font-weight="bold" text-anchor="middle" >*</text>
<line x1="429.8" y1="327.4" x2="429.8" y2="331.9" stroke="#000" stroke-width="1.4" />
<text x="429.8" y="342.5" font-size="9" font-weight="bold" text-anchor="middle" >- IFN</text>
<line x1="518" y1="327.4" x2="518" y2="331.9" stroke="#000" stroke-width="1.4" />
<text x="518" y="342.5" font-size="9" font-weight="bold" text-anchor="middle" >+IFN</text>
<rect x="505.40" y="192.00" width="15.30" height="8.60" fill="#c9c9c9" stroke="#3a3a3a" stroke-width="0.7" />
<text transform="translate(525.2 199.30) scale(0.925 1)" font-size="8.65" font-weight="bold" stroke="#000" stroke-width="0.18">si NT</text>
<rect x="505.40" y="204.00" width="15.30" height="8.60" fill="#5b80dc" stroke="#3a3a3a" stroke-width="0.7" />
<text transform="translate(525.2 211.30) scale(0.925 1)" font-size="8.65" font-weight="bold" stroke="#000" stroke-width="0.18">si APOL1</text>
<rect x="505.40" y="215.90" width="15.30" height="8.60" fill="#3f5a96" stroke="#3a3a3a" stroke-width="0.7" />
<text transform="translate(525.2 223.20) scale(0.925 1)" font-size="8.65" font-weight="bold" stroke="#000" stroke-width="0.18">si APOL3</text>
<rect x="505.40" y="227.80" width="15.30" height="8.60" fill="#666666" stroke="#3a3a3a" stroke-width="0.7" />
<text transform="translate(525.2 235.10) scale(0.925 1)" font-size="8.65" font-weight="bold" stroke="#000" stroke-width="0.18">si USP18</text>
<text x="362" y="266.3" font-size="10" font-weight="bold" text-anchor="middle" transform="rotate(-90 362 266.3)" textLength="93.5" lengthAdjust="spacingAndGlyphs" stroke="#000" stroke-width="0.25">Ratio of infected cells</text>
<line x1="36.3" y1="374.3" x2="36.3" y2="499.7" stroke="#000" stroke-width="1.5" />
<line x1="35.7" y1="499" x2="171.7" y2="499" stroke="#000" stroke-width="1.5" />
<line x1="31.499999999999996" y1="499.0" x2="36.3" y2="499.0" stroke="#000" stroke-width="1.4" />
<text x="30.099999999999998" y="502.06" font-size="8.5" font-weight="bold" text-anchor="end" >0.0</text>
<line x1="31.499999999999996" y1="483.5" x2="36.3" y2="483.5" stroke="#000" stroke-width="1.4" />
<text x="30.099999999999998" y="486.56" font-size="8.5" font-weight="bold" text-anchor="end" >0.2</text>
<line x1="31.499999999999996" y1="468.0" x2="36.3" y2="468.0" stroke="#000" stroke-width="1.4" />
<text x="30.099999999999998" y="471.06" font-size="8.5" font-weight="bold" text-anchor="end" >0.4</text>
<line x1="31.499999999999996" y1="452.5" x2="36.3" y2="452.5" stroke="#000" stroke-width="1.4" />
<text x="30.099999999999998" y="455.56" font-size="8.5" font-weight="bold" text-anchor="end" >0.6</text>
<line x1="31.499999999999996" y1="437.0" x2="36.3" y2="437.0" stroke="#000" stroke-width="1.4" />
<text x="30.099999999999998" y="440.06" font-size="8.5" font-weight="bold" text-anchor="end" >0.8</text>
<line x1="31.499999999999996" y1="421.5" x2="36.3" y2="421.5" stroke="#000" stroke-width="1.4" />
<text x="30.099999999999998" y="424.56" font-size="8.5" font-weight="bold" text-anchor="end" >1.0</text>
<line x1="31.499999999999996" y1="406.0" x2="36.3" y2="406.0" stroke="#000" stroke-width="1.4" />
<text x="30.099999999999998" y="409.06" font-size="8.5" font-weight="bold" text-anchor="end" >1.2</text>
<line x1="31.499999999999996" y1="390.5" x2="36.3" y2="390.5" stroke="#000" stroke-width="1.4" />
<text x="30.099999999999998" y="393.56" font-size="8.5" font-weight="bold" text-anchor="end" >1.4</text>
<line x1="31.499999999999996" y1="375.0" x2="36.3" y2="375.0" stroke="#000" stroke-width="1.4" />
<text x="30.099999999999998" y="378.06" font-size="8.5" font-weight="bold" text-anchor="end" >1.6</text>
<text x="10.6" y="437" font-size="9.8" font-weight="bold" text-anchor="middle" transform="rotate(-90 10.6 437)" textLength="93" lengthAdjust="spacingAndGlyphs" stroke="#000" stroke-width="0.25">Ratio of infected cells</text>
<text x="96.7" y="382.8" font-size="11" font-weight="bold" text-anchor="middle" >DENV-2</text>
<line x1="70" y1="499" x2="70" y2="502.5" stroke="#000" stroke-width="1.1" />
<text x="70" y="513" font-size="8.8" font-weight="bold" text-anchor="middle" >- IFN</text>
<line x1="138" y1="499" x2="138" y2="502.5" stroke="#000" stroke-width="1.1" />
<text x="138" y="513" font-size="8.8" font-weight="bold" text-anchor="middle" >+IFN</text>
<rect x="43.50" y="421.50" width="11.40" height="77.50" fill="#c9c9c9" stroke="#1a1a1a" stroke-width="0.8" />
<rect x="57.60" y="439.32" width="11.40" height="59.68" fill="#5b80dc" stroke="#1a1a1a" stroke-width="0.8" />
<rect x="71.70" y="426.54" width="11.40" height="72.46" fill="#3f5a96" stroke="#1a1a1a" stroke-width="0.8" />
<rect x="85.50" y="426.54" width="11.40" height="72.46" fill="#666666" stroke="#1a1a1a" stroke-width="0.8" />
<rect x="111.50" y="421.50" width="11.40" height="77.50" fill="#c9c9c9" stroke="#1a1a1a" stroke-width="0.8" />
<rect x="125.60" y="466.45" width="11.40" height="32.55" fill="#5b80dc" stroke="#1a1a1a" stroke-width="0.8" />
<rect x="139.60" y="465.52" width="11.40" height="33.48" fill="#3f5a96" stroke="#1a1a1a" stroke-width="0.8" />
<rect x="153.70" y="489.86" width="11.40" height="9.14" fill="#666666" stroke="#1a1a1a" stroke-width="0.8" />
<line x1="175.6" y1="499" x2="307" y2="499" stroke="#000" stroke-width="1.2" />
<line x1="173.5" y1="376" x2="173.5" y2="500.5" stroke="#000" stroke-width="1.4" stroke-dasharray="5.6 3.3"/>
<text x="233" y="382.8" font-size="11" font-weight="bold" text-anchor="middle" >WNV</text>
<line x1="205.9" y1="499" x2="205.9" y2="502.5" stroke="#000" stroke-width="1.1" />
<text x="205.9" y="513" font-size="8.8" font-weight="bold" text-anchor="middle" >- IFN</text>
<line x1="273.9" y1="499" x2="273.9" y2="502.5" stroke="#000" stroke-width="1.1" />
<text x="273.9" y="513" font-size="8.8" font-weight="bold" text-anchor="middle" >+IFN</text>
<rect x="179.30" y="421.50" width="11.40" height="77.50" fill="#c9c9c9" stroke="#1a1a1a" stroke-width="0.8" />
<rect x="193.40" y="475.36" width="11.40" height="23.64" fill="#5b80dc" stroke="#1a1a1a" stroke-width="0.8" />
<rect x="207.50" y="435.45" width="11.40" height="63.55" fill="#3f5a96" stroke="#1a1a1a" stroke-width="0.8" />
<rect x="221.40" y="449.01" width="11.40" height="49.99" fill="#666666" stroke="#1a1a1a" stroke-width="0.8" />
<rect x="247.40" y="421.50" width="11.40" height="77.50" fill="#c9c9c9" stroke="#1a1a1a" stroke-width="0.8" />
<rect x="261.40" y="464.12" width="11.40" height="34.88" fill="#5b80dc" stroke="#1a1a1a" stroke-width="0.8" />
<rect x="275.50" y="463.74" width="11.40" height="35.26" fill="#3f5a96" stroke="#1a1a1a" stroke-width="0.8" />
<rect x="289.60" y="485.44" width="11.40" height="13.56" fill="#666666" stroke="#1a1a1a" stroke-width="0.8" />
<line x1="311" y1="499" x2="443.7" y2="499" stroke="#000" stroke-width="1.2" />
<line x1="308.6" y1="376" x2="308.6" y2="500.5" stroke="#000" stroke-width="1.4" stroke-dasharray="5.6 3.3"/>
<text x="373.3" y="382.8" font-size="11" font-weight="bold" text-anchor="middle" >VSV</text>
<line x1="344.3" y1="499" x2="344.3" y2="502.5" stroke="#000" stroke-width="1.1" />
<text x="344.3" y="513" font-size="8.8" font-weight="bold" text-anchor="middle" >- IFN</text>
<line x1="412.4" y1="499" x2="412.4" y2="502.5" stroke="#000" stroke-width="1.1" />
<text x="412.4" y="513" font-size="8.8" font-weight="bold" text-anchor="middle" >+IFN</text>
<rect x="317.60" y="421.50" width="11.40" height="77.50" fill="#c9c9c9" stroke="#1a1a1a" stroke-width="0.8" />
<rect x="331.40" y="455.60" width="11.40" height="43.40" fill="#5b80dc" stroke="#1a1a1a" stroke-width="0.8" />
<rect x="345.40" y="429.64" width="11.40" height="69.36" fill="#3f5a96" stroke="#1a1a1a" stroke-width="0.8" />
<rect x="359.50" y="434.68" width="11.40" height="64.32" fill="#666666" stroke="#1a1a1a" stroke-width="0.8" />
<rect x="385.80" y="421.50" width="11.40" height="77.50" fill="#c9c9c9" stroke="#1a1a1a" stroke-width="0.8" />
<rect x="399.50" y="491.25" width="11.40" height="7.75" fill="#5b80dc" stroke="#1a1a1a" stroke-width="0.8" />
<rect x="413.40" y="490.48" width="11.40" height="8.52" fill="#3f5a96" stroke="#1a1a1a" stroke-width="0.8" />
<rect x="427.50" y="496.68" width="11.40" height="2.32" fill="#666666" stroke="#1a1a1a" stroke-width="0.8" />
<line x1="449" y1="499" x2="581.7" y2="499" stroke="#000" stroke-width="1.2" />
<line x1="446.4" y1="376" x2="446.4" y2="500.5" stroke="#000" stroke-width="1.4" stroke-dasharray="5.6 3.3"/>
<text x="517" y="382.8" font-size="11" font-weight="bold" text-anchor="middle" >MeV-GFP</text>
<line x1="480" y1="499" x2="480" y2="502.5" stroke="#000" stroke-width="1.1" />
<text x="480" y="513" font-size="8.8" font-weight="bold" text-anchor="middle" >- IFN</text>
<line x1="548" y1="499" x2="548" y2="502.5" stroke="#000" stroke-width="1.1" />
<text x="548" y="513" font-size="8.8" font-weight="bold" text-anchor="middle" >+IFN</text>
<rect x="453.50" y="421.50" width="11.40" height="77.50" fill="#c9c9c9" stroke="#1a1a1a" stroke-width="0.8" />
<rect x="467.50" y="445.53" width="11.40" height="53.47" fill="#5b80dc" stroke="#1a1a1a" stroke-width="0.8" />
<rect x="481.50" y="421.50" width="11.40" height="77.50" fill="#3f5a96" stroke="#1a1a1a" stroke-width="0.8" />
<rect x="495.50" y="414.52" width="11.40" height="84.48" fill="#666666" stroke="#1a1a1a" stroke-width="0.8" />
<rect x="521.30" y="421.50" width="11.40" height="77.50" fill="#c9c9c9" stroke="#1a1a1a" stroke-width="0.8" />
<rect x="535.30" y="456.76" width="11.40" height="42.24" fill="#5b80dc" stroke="#1a1a1a" stroke-width="0.8" />
<rect x="549.40" y="445.53" width="11.40" height="53.47" fill="#3f5a96" stroke="#1a1a1a" stroke-width="0.8" />
<rect x="563.40" y="456.76" width="11.40" height="42.24" fill="#666666" stroke="#1a1a1a" stroke-width="0.8" />
<line x1="585.7" y1="499" x2="717.8" y2="499" stroke="#000" stroke-width="1.2" />
<line x1="583.3" y1="376" x2="583.3" y2="500.5" stroke="#000" stroke-width="1.4" stroke-dasharray="5.6 3.3"/>
<text x="648.2" y="382.8" font-size="11" font-weight="bold" text-anchor="middle" >MVA-GFP</text>
<line x1="615.6" y1="499" x2="615.6" y2="502.5" stroke="#000" stroke-width="1.1" />
<text x="615.6" y="513" font-size="8.8" font-weight="bold" text-anchor="middle" >- IFN</text>
<line x1="683" y1="499" x2="683" y2="502.5" stroke="#000" stroke-width="1.1" />
<text x="683" y="513" font-size="8.8" font-weight="bold" text-anchor="middle" >+IFN</text>
<rect x="589.00" y="421.50" width="11.40" height="77.50" fill="#c9c9c9" stroke="#1a1a1a" stroke-width="0.8" />
<rect x="603.10" y="426.15" width="11.40" height="72.85" fill="#5b80dc" stroke="#1a1a1a" stroke-width="0.8" />
<rect x="617.20" y="409.10" width="11.40" height="89.90" fill="#3f5a96" stroke="#1a1a1a" stroke-width="0.8" />
<rect x="631.30" y="434.68" width="11.40" height="64.32" fill="#666666" stroke="#1a1a1a" stroke-width="0.8" />
<rect x="656.40" y="421.50" width="11.40" height="77.50" fill="#c9c9c9" stroke="#1a1a1a" stroke-width="0.8" />
<rect x="670.50" y="423.82" width="11.40" height="75.18" fill="#5b80dc" stroke="#1a1a1a" stroke-width="0.8" />
<rect x="684.60" y="419.95" width="11.40" height="79.05" fill="#3f5a96" stroke="#1a1a1a" stroke-width="0.8" />
<rect x="698.70" y="439.32" width="11.40" height="59.68" fill="#666666" stroke="#1a1a1a" stroke-width="0.8" />
<circle cx="45.30" cy="421.50" r="1.6" fill="#000"/>
<circle cx="47.90" cy="421.50" r="1.6" fill="#000"/>
<circle cx="50.50" cy="421.50" r="1.6" fill="#000"/>
<circle cx="53.10" cy="421.50" r="1.6" fill="#000"/>
<circle cx="113.30" cy="421.50" r="1.6" fill="#000"/>
<circle cx="115.90" cy="421.50" r="1.6" fill="#000"/>
<circle cx="118.50" cy="421.50" r="1.6" fill="#000"/>
<circle cx="121.10" cy="421.50" r="1.6" fill="#000"/>
<line x1="63.300000000000004" y1="428.0875" x2="63.300000000000004" y2="439.325" stroke="#000" stroke-width="1.2" />
<line x1="59.800000000000004" y1="428.0875" x2="66.80000000000001" y2="428.0875" stroke="#000" stroke-width="1.2" />
<circle cx="63.30" cy="428.48" r="1.85" fill="#000"/>
<circle cx="63.30" cy="434.68" r="1.85" fill="#000"/>
<circle cx="63.30" cy="442.43" r="1.85" fill="#000"/>
<circle cx="63.30" cy="454.05" r="1.85" fill="#000"/>
<line x1="77.4" y1="410.65000000000003" x2="77.4" y2="426.5375" stroke="#000" stroke-width="1.2" />
<line x1="73.9" y1="410.65000000000003" x2="80.9" y2="410.65000000000003" stroke="#000" stroke-width="1.2" />
<circle cx="77.40" cy="409.10" r="1.85" fill="#000"/>
<circle cx="77.40" cy="419.18" r="1.85" fill="#000"/>
<circle cx="77.40" cy="436.23" r="1.85" fill="#000"/>
<circle cx="77.40" cy="442.43" r="1.85" fill="#000"/>
<line x1="91.2" y1="422.275" x2="91.2" y2="426.5375" stroke="#000" stroke-width="1.2" />
<line x1="87.7" y1="422.275" x2="94.7" y2="422.275" stroke="#000" stroke-width="1.2" />
<circle cx="88.20" cy="423.82" r="1.85" fill="#000"/>
<circle cx="94.70" cy="424.99" r="1.85" fill="#000"/>
<circle cx="91.20" cy="432.35" r="1.85" fill="#000"/>
<line x1="131.29999999999998" y1="455.21250000000003" x2="131.29999999999998" y2="466.45" stroke="#000" stroke-width="1.2" />
<line x1="127.79999999999998" y1="455.21250000000003" x2="134.79999999999998" y2="455.21250000000003" stroke="#000" stroke-width="1.2" />
<circle cx="127.80" cy="461.80" r="1.85" fill="#000"/>
<circle cx="134.80" cy="465.68" r="1.85" fill="#000"/>
<circle cx="131.30" cy="481.95" r="1.85" fill="#000"/>
<text x="131.29999999999998" y="452.1375" font-size="9.5" font-weight="bold" text-anchor="middle" >*</text>
<line x1="145.29999999999998" y1="461.025" x2="145.29999999999998" y2="465.52" stroke="#000" stroke-width="1.2" />
<line x1="141.79999999999998" y1="461.025" x2="148.79999999999998" y2="461.025" stroke="#000" stroke-width="1.2" />
<circle cx="145.30" cy="460.25" r="1.85" fill="#000"/>
<circle cx="141.80" cy="468.00" r="1.85" fill="#000"/>
<circle cx="148.80" cy="468.00" r="1.85" fill="#000"/>
<circle cx="145.30" cy="464.90" r="1.85" fill="#000"/>
<text x="145.29999999999998" y="454.075" font-size="9.5" font-weight="bold" text-anchor="middle" >***</text>
<line x1="159.39999999999998" y1="488.5375" x2="159.39999999999998" y2="489.855" stroke="#000" stroke-width="1.2" />
<line x1="155.89999999999998" y1="488.5375" x2="162.89999999999998" y2="488.5375" stroke="#000" stroke-width="1.2" />
<circle cx="156.10" cy="489.55" r="1.85" fill="#000"/>
<circle cx="159.40" cy="489.31" r="1.85" fill="#000"/>
<circle cx="162.70" cy="489.55" r="1.85" fill="#000"/>
<text x="159.39999999999998" y="484.3" font-size="9.5" font-weight="bold" text-anchor="middle" >****</text>
<circle cx="181.10" cy="421.50" r="1.6" fill="#000"/>
<circle cx="183.70" cy="421.50" r="1.6" fill="#000"/>
<circle cx="186.30" cy="421.50" r="1.6" fill="#000"/>
<circle cx="188.90" cy="421.50" r="1.6" fill="#000"/>
<circle cx="249.20" cy="421.50" r="1.6" fill="#000"/>
<circle cx="251.80" cy="421.50" r="1.6" fill="#000"/>
<circle cx="254.40" cy="421.50" r="1.6" fill="#000"/>
<circle cx="257.00" cy="421.50" r="1.6" fill="#000"/>
<line x1="199.1" y1="469.1625" x2="199.1" y2="475.3625" stroke="#000" stroke-width="1.2" />
<line x1="195.6" y1="469.1625" x2="202.6" y2="469.1625" stroke="#000" stroke-width="1.2" />
<circle cx="196.10" cy="471.10" r="1.85" fill="#000"/>
<circle cx="202.60" cy="468.39" r="1.85" fill="#000"/>
<circle cx="195.60" cy="480.79" r="1.85" fill="#000"/>
<circle cx="202.60" cy="480.79" r="1.85" fill="#000"/>
<text x="199.1" y="466.475" font-size="9.5" font-weight="bold" text-anchor="middle" >*</text>
<line x1="213.2" y1="425.375" x2="213.2" y2="435.45" stroke="#000" stroke-width="1.2" />
<line x1="209.7" y1="425.375" x2="216.7" y2="425.375" stroke="#000" stroke-width="1.2" />
<circle cx="213.20" cy="425.38" r="1.85" fill="#000"/>
<circle cx="209.40" cy="433.12" r="1.85" fill="#000"/>
<circle cx="217.00" cy="434.29" r="1.85" fill="#000"/>
<circle cx="213.20" cy="448.62" r="1.85" fill="#000"/>
<text x="213.2" y="423.075" font-size="9.5" font-weight="bold" text-anchor="middle" >*</text>
<line x1="227.1" y1="435.45" x2="227.1" y2="461.8" stroke="#000" stroke-width="1.2" />
<line x1="223.6" y1="435.45" x2="230.6" y2="435.45" stroke="#000" stroke-width="1.2" />
<line x1="223.6" y1="461.8" x2="230.6" y2="461.8" stroke="#000" stroke-width="1.2" />
<circle cx="227.10" cy="435.45" r="1.85" fill="#000"/>
<circle cx="227.10" cy="449.01" r="1.85" fill="#000"/>
<circle cx="227.10" cy="461.80" r="1.85" fill="#000"/>
<text x="227.1" y="433.5375" font-size="9.5" font-weight="bold" text-anchor="middle" >*</text>
<line x1="267.09999999999997" y1="457.925" x2="267.09999999999997" y2="464.125" stroke="#000" stroke-width="1.2" />
<line x1="263.59999999999997" y1="457.925" x2="270.59999999999997" y2="457.925" stroke="#000" stroke-width="1.2" />
<circle cx="267.10" cy="457.93" r="1.85" fill="#000"/>
<circle cx="263.10" cy="462.57" r="1.85" fill="#000"/>
<circle cx="271.10" cy="464.12" r="1.85" fill="#000"/>
<circle cx="267.10" cy="472.65" r="1.85" fill="#000"/>
<text x="267.09999999999997" y="455.625" font-size="9.5" font-weight="bold" text-anchor="middle" >**</text>
<line x1="281.2" y1="459.475" x2="281.2" y2="463.7375" stroke="#000" stroke-width="1.2" />
<line x1="277.7" y1="459.475" x2="284.7" y2="459.475" stroke="#000" stroke-width="1.2" />
<circle cx="278.20" cy="461.02" r="1.85" fill="#000"/>
<circle cx="285.20" cy="459.48" r="1.85" fill="#000"/>
<circle cx="285.20" cy="464.90" r="1.85" fill="#000"/>
<circle cx="281.20" cy="469.55" r="1.85" fill="#000"/>
<text x="281.2" y="457.95" font-size="9.5" font-weight="bold" text-anchor="middle" >**</text>
<line x1="295.3" y1="483.1125" x2="295.3" y2="485.4375" stroke="#000" stroke-width="1.2" />
<line x1="291.8" y1="483.1125" x2="298.8" y2="483.1125" stroke="#000" stroke-width="1.2" />
<circle cx="292.30" cy="483.50" r="1.85" fill="#000"/>
<circle cx="298.80" cy="484.27" r="1.85" fill="#000"/>
<circle cx="295.30" cy="486.99" r="1.85" fill="#000"/>
<text x="295.3" y="481.975" font-size="9.5" font-weight="bold" text-anchor="middle" >**</text>
<circle cx="319.40" cy="421.50" r="1.6" fill="#000"/>
<circle cx="322.00" cy="421.50" r="1.6" fill="#000"/>
<circle cx="324.60" cy="421.50" r="1.6" fill="#000"/>
<circle cx="327.20" cy="421.50" r="1.6" fill="#000"/>
<circle cx="387.60" cy="421.50" r="1.6" fill="#000"/>
<circle cx="390.20" cy="421.50" r="1.6" fill="#000"/>
<circle cx="392.80" cy="421.50" r="1.6" fill="#000"/>
<circle cx="395.40" cy="421.50" r="1.6" fill="#000"/>
<line x1="337.09999999999997" y1="437.775" x2="337.09999999999997" y2="455.6" stroke="#000" stroke-width="1.2" />
<line x1="333.59999999999997" y1="437.775" x2="340.59999999999997" y2="437.775" stroke="#000" stroke-width="1.2" />
<circle cx="333.60" cy="440.10" r="1.85" fill="#000"/>
<circle cx="341.10" cy="438.55" r="1.85" fill="#000"/>
<circle cx="341.10" cy="469.55" r="1.85" fill="#000"/>
<circle cx="333.60" cy="473.04" r="1.85" fill="#000"/>
<text x="337.09999999999997" y="434.3125" font-size="9.5" font-weight="bold" text-anchor="middle" >*</text>
<line x1="351.09999999999997" y1="415.3" x2="351.09999999999997" y2="429.6375" stroke="#000" stroke-width="1.2" />
<line x1="347.59999999999997" y1="415.3" x2="354.59999999999997" y2="415.3" stroke="#000" stroke-width="1.2" />
<circle cx="351.10" cy="410.65" r="1.85" fill="#000"/>
<circle cx="351.10" cy="427.70" r="1.85" fill="#000"/>
<circle cx="351.10" cy="434.68" r="1.85" fill="#000"/>
<circle cx="351.10" cy="444.75" r="1.85" fill="#000"/>
<line x1="365.2" y1="428.0875" x2="365.2" y2="434.675" stroke="#000" stroke-width="1.2" />
<line x1="361.7" y1="428.0875" x2="368.7" y2="428.0875" stroke="#000" stroke-width="1.2" />
<circle cx="361.40" cy="431.19" r="1.85" fill="#000"/>
<circle cx="368.70" cy="431.19" r="1.85" fill="#000"/>
<circle cx="365.20" cy="440.10" r="1.85" fill="#000"/>
<text x="365.2" y="425.7875" font-size="9.5" font-weight="bold" text-anchor="middle" >*</text>
<line x1="405.2" y1="487.375" x2="405.2" y2="491.25" stroke="#000" stroke-width="1.2" />
<line x1="401.7" y1="487.375" x2="408.7" y2="487.375" stroke="#000" stroke-width="1.2" />
<circle cx="409.20" cy="486.60" r="1.85" fill="#000"/>
<circle cx="402.20" cy="495.90" r="1.85" fill="#000"/>
<circle cx="409.20" cy="493.57" r="1.85" fill="#000"/>
<circle cx="401.20" cy="489.70" r="1.85" fill="#000"/>
<text x="405.2" y="481.5875" font-size="9.5" font-weight="bold" text-anchor="middle" >**</text>
<line x1="419.09999999999997" y1="489.3125" x2="419.09999999999997" y2="490.475" stroke="#000" stroke-width="1.2" />
<line x1="415.59999999999997" y1="489.3125" x2="422.59999999999997" y2="489.3125" stroke="#000" stroke-width="1.2" />
<circle cx="415.60" cy="490.48" r="1.85" fill="#000"/>
<circle cx="417.90" cy="490.09" r="1.85" fill="#000"/>
<circle cx="420.30" cy="490.09" r="1.85" fill="#000"/>
<circle cx="422.60" cy="490.48" r="1.85" fill="#000"/>
<text x="419.09999999999997" y="486.2375" font-size="9.5" font-weight="bold" text-anchor="middle" >****</text>
<line x1="433.2" y1="494.35" x2="433.2" y2="496.675" stroke="#000" stroke-width="1.2" />
<line x1="429.7" y1="494.35" x2="436.7" y2="494.35" stroke="#000" stroke-width="1.2" />
<circle cx="430.20" cy="493.96" r="1.85" fill="#000"/>
<circle cx="436.70" cy="496.68" r="1.85" fill="#000"/>
<circle cx="433.20" cy="497.45" r="1.85" fill="#000"/>
<circle cx="455.50" cy="421.50" r="1.8" fill="#000"/>
<circle cx="459.20" cy="421.50" r="1.8" fill="#000"/>
<circle cx="462.90" cy="421.50" r="1.8" fill="#000"/>
<circle cx="523.30" cy="421.50" r="1.8" fill="#000"/>
<circle cx="527.00" cy="421.50" r="1.8" fill="#000"/>
<circle cx="530.70" cy="421.50" r="1.8" fill="#000"/>
<line x1="473.2" y1="437.0" x2="473.2" y2="445.52500000000003" stroke="#000" stroke-width="1.2" />
<line x1="469.7" y1="437.0" x2="476.7" y2="437.0" stroke="#000" stroke-width="1.2" />
<circle cx="473.20" cy="437.00" r="1.85" fill="#000"/>
<circle cx="469.40" cy="449.79" r="1.85" fill="#000"/>
<circle cx="477.00" cy="449.79" r="1.85" fill="#000"/>
<text x="473.2" y="433.925" font-size="9.5" font-weight="bold" text-anchor="middle" >*</text>
<line x1="487.2" y1="414.525" x2="487.2" y2="421.5" stroke="#000" stroke-width="1.2" />
<line x1="483.7" y1="414.525" x2="490.7" y2="414.525" stroke="#000" stroke-width="1.2" />
<circle cx="487.20" cy="413.75" r="1.85" fill="#000"/>
<circle cx="487.20" cy="421.50" r="1.85" fill="#000"/>
<circle cx="487.20" cy="426.93" r="1.85" fill="#000"/>
<line x1="501.2" y1="406.775" x2="501.2" y2="414.525" stroke="#000" stroke-width="1.2" />
<line x1="497.7" y1="406.775" x2="504.7" y2="406.775" stroke="#000" stroke-width="1.2" />
<circle cx="501.20" cy="406.00" r="1.85" fill="#000"/>
<circle cx="501.20" cy="414.52" r="1.85" fill="#000"/>
<circle cx="501.20" cy="422.27" r="1.85" fill="#000"/>
<line x1="541.0" y1="452.5" x2="541.0" y2="456.7625" stroke="#000" stroke-width="1.2" />
<line x1="537.5" y1="452.5" x2="544.5" y2="452.5" stroke="#000" stroke-width="1.2" />
<circle cx="541.00" cy="452.50" r="1.85" fill="#000"/>
<circle cx="537.20" cy="459.86" r="1.85" fill="#000"/>
<circle cx="544.80" cy="457.15" r="1.85" fill="#000"/>
<text x="539.0" y="449.425" font-size="9.5" font-weight="bold" text-anchor="middle" >**</text>
<line x1="555.1" y1="438.55" x2="555.1" y2="445.52500000000003" stroke="#000" stroke-width="1.2" />
<line x1="551.6" y1="438.55" x2="558.6" y2="438.55" stroke="#000" stroke-width="1.2" />
<circle cx="555.10" cy="438.55" r="1.85" fill="#000"/>
<circle cx="555.10" cy="445.53" r="1.85" fill="#000"/>
<circle cx="555.10" cy="450.18" r="1.85" fill="#000"/>
<text x="555.1" y="435.0875" font-size="9.5" font-weight="bold" text-anchor="middle" >*</text>
<line x1="569.1" y1="447.075" x2="569.1" y2="466.8375" stroke="#000" stroke-width="1.2" />
<line x1="565.6" y1="447.075" x2="572.6" y2="447.075" stroke="#000" stroke-width="1.2" />
<line x1="565.6" y1="466.8375" x2="572.6" y2="466.8375" stroke="#000" stroke-width="1.2" />
<circle cx="569.10" cy="447.07" r="1.85" fill="#000"/>
<circle cx="569.10" cy="456.76" r="1.85" fill="#000"/>
<circle cx="569.10" cy="466.84" r="1.85" fill="#000"/>
<text x="569.1" y="444.3875" font-size="9.5" font-weight="bold" text-anchor="middle" >*</text>
<circle cx="591.00" cy="421.50" r="1.8" fill="#000"/>
<circle cx="594.70" cy="421.50" r="1.8" fill="#000"/>
<circle cx="598.40" cy="421.50" r="1.8" fill="#000"/>
<circle cx="658.40" cy="421.50" r="1.8" fill="#000"/>
<circle cx="662.10" cy="421.50" r="1.8" fill="#000"/>
<circle cx="665.80" cy="421.50" r="1.8" fill="#000"/>
<line x1="608.8000000000001" y1="414.525" x2="608.8000000000001" y2="426.15" stroke="#000" stroke-width="1.2" />
<line x1="605.3000000000001" y1="414.525" x2="612.3000000000001" y2="414.525" stroke="#000" stroke-width="1.2" />
<circle cx="608.80" cy="413.75" r="1.85" fill="#000"/>
<circle cx="608.80" cy="425.38" r="1.85" fill="#000"/>
<circle cx="608.80" cy="437.77" r="1.85" fill="#000"/>
<line x1="622.9000000000001" y1="390.5" x2="622.9000000000001" y2="409.1" stroke="#000" stroke-width="1.2" />
<line x1="619.4000000000001" y1="390.5" x2="626.4000000000001" y2="390.5" stroke="#000" stroke-width="1.2" />
<circle cx="622.90" cy="388.18" r="1.85" fill="#000"/>
<circle cx="622.90" cy="416.07" r="1.85" fill="#000"/>
<circle cx="622.90" cy="421.50" r="1.85" fill="#000"/>
<line x1="637.0" y1="426.925" x2="637.0" y2="434.675" stroke="#000" stroke-width="1.2" />
<line x1="633.5" y1="426.925" x2="640.5" y2="426.925" stroke="#000" stroke-width="1.2" />
<circle cx="637.00" cy="426.15" r="1.85" fill="#000"/>
<circle cx="637.00" cy="434.68" r="1.85" fill="#000"/>
<circle cx="637.00" cy="441.65" r="1.85" fill="#000"/>
<line x1="676.2" y1="419.175" x2="676.2" y2="423.825" stroke="#000" stroke-width="1.2" />
<line x1="672.7" y1="419.175" x2="679.7" y2="419.175" stroke="#000" stroke-width="1.2" />
<circle cx="672.20" cy="418.79" r="1.85" fill="#000"/>
<circle cx="680.20" cy="423.05" r="1.85" fill="#000"/>
<circle cx="676.20" cy="429.25" r="1.85" fill="#000"/>
<line x1="690.3000000000001" y1="411.425" x2="690.3000000000001" y2="419.95" stroke="#000" stroke-width="1.2" />
<line x1="686.8000000000001" y1="411.425" x2="693.8000000000001" y2="411.425" stroke="#000" stroke-width="1.2" />
<circle cx="690.30" cy="408.33" r="1.85" fill="#000"/>
<circle cx="686.30" cy="425.76" r="1.85" fill="#000"/>
<circle cx="694.30" cy="425.76" r="1.85" fill="#000"/>
<line x1="704.4000000000001" y1="430.4125" x2="704.4000000000001" y2="439.325" stroke="#000" stroke-width="1.2" />
<line x1="700.9000000000001" y1="430.4125" x2="707.9000000000001" y2="430.4125" stroke="#000" stroke-width="1.2" />
<circle cx="704.40" cy="430.02" r="1.85" fill="#000"/>
<circle cx="700.40" cy="444.36" r="1.85" fill="#000"/>
<circle cx="708.40" cy="442.04" r="1.85" fill="#000"/>
<rect x="726.60" y="367.30" width="15.60" height="8.80" fill="#c9c9c9" stroke="#3a3a3a" stroke-width="0.7" />
<text transform="translate(747.2 374.80) scale(0.925 1)" font-size="8.65" font-weight="bold" stroke="#000" stroke-width="0.18">si NT</text>
<rect x="726.60" y="379.50" width="15.60" height="8.80" fill="#5b80dc" stroke="#3a3a3a" stroke-width="0.7" />
<text transform="translate(747.2 387.00) scale(0.925 1)" font-size="8.65" font-weight="bold" stroke="#000" stroke-width="0.18">si APOL1</text>
<rect x="726.60" y="391.50" width="15.60" height="8.80" fill="#3f5a96" stroke="#3a3a3a" stroke-width="0.7" />
<text transform="translate(747.2 399.00) scale(0.925 1)" font-size="8.65" font-weight="bold" stroke="#000" stroke-width="0.18">si APOL3</text>
<rect x="726.60" y="403.80" width="15.60" height="8.80" fill="#666666" stroke="#3a3a3a" stroke-width="0.7" />
<text transform="translate(747.2 411.30) scale(0.925 1)" font-size="8.65" font-weight="bold" stroke="#000" stroke-width="0.18">si USP18</text>
<defs><filter id="b0" x="-20%" y="-150%" width="140%" height="400%"><feGaussianBlur stdDeviation="0.9 0.6"/></filter><filter id="b1" x="-20%" y="-150%" width="140%" height="400%"><feGaussianBlur stdDeviation="1.3 0.9"/></filter><filter id="b2" x="-20%" y="-150%" width="140%" height="400%"><feGaussianBlur stdDeviation="1.8 1.4"/></filter><filter id="b3" x="-10%" y="-10%" width="120%" height="120%"><feGaussianBlur stdDeviation="3 2"/></filter></defs>
<clipPath id="c1"><rect x="594.6" y="31.6" width="131.00" height="21.20"/></clipPath>
<rect x="594.6" y="31.6" width="131.00" height="21.20" fill="#e9e9e9"/>
<g clip-path="url(#c1)">
<rect x="600.10" y="39.60" width="15" height="1.4" rx="0.70" fill="#aaa" opacity="0.45" filter="url(#b0)"/>
<path d="M626.20 40.75 Q634.00 42.55 641.80 40.75" fill="none" stroke="#000" stroke-width="3.4" stroke-linecap="round" opacity="0.95" filter="url(#b0)"/>
<path d="M627.50 40.95 Q634.00 42.75 640.50 40.95" fill="none" stroke="#000" stroke-width="2" stroke-linecap="round" opacity="0.8" filter="url(#b0)"/>
<path d="M652.00 41.65 Q659.60 43.05 667.20 41.65" fill="none" stroke="#3a3a3a" stroke-width="2.8" stroke-linecap="round" opacity="0.85" filter="url(#b0)"/>
<path d="M677.35 42.50 Q685.00 43.70 692.65 42.50" fill="none" stroke="#151515" stroke-width="3.2" stroke-linecap="round" opacity="0.95" filter="url(#b0)"/>
<path d="M702.80 43.10 Q710.00 44.30 717.20 43.10" fill="none" stroke="#5a5a5a" stroke-width="2.6" stroke-linecap="round" opacity="0.8" filter="url(#b0)"/>
</g>
<rect x="594.6" y="31.6" width="131.00" height="21.20" fill="none" stroke="#707070" stroke-width="0.9"/>
<clipPath id="c2"><rect x="594.6" y="57.5" width="131.00" height="20.70"/></clipPath>
<rect x="594.6" y="57.5" width="131.00" height="20.70" fill="#ededed"/>
<g clip-path="url(#c2)">
<rect x="624.00" y="65.60" width="20" height="4.8" rx="2.40" fill="#2e2e2e" opacity="0.88" filter="url(#b1)"/>
<rect x="650.35" y="65.70" width="18.5" height="4" rx="2.00" fill="#5a5a5a" opacity="0.85" filter="url(#b1)"/>
<rect x="676.00" y="65.60" width="18" height="3.8" rx="1.90" fill="#6a6a6a" opacity="0.85" filter="url(#b1)"/>
<rect x="700.75" y="66.30" width="18.5" height="3.6" rx="1.80" fill="#777" opacity="0.8" filter="url(#b1)"/>
</g>
<rect x="594.6" y="57.5" width="131.00" height="20.70" fill="none" stroke="#707070" stroke-width="0.9"/>
<clipPath id="c3"><rect x="594.6" y="82.8" width="131.00" height="20.60"/></clipPath>
<rect x="594.6" y="82.8" width="131.00" height="20.60" fill="#8d8d8d"/>
<g clip-path="url(#c3)">
<rect x="590" y="80" width="140" height="5" fill="#555" opacity="0.5" filter="url(#b3)"/>
<rect x="590" y="100.5" width="140" height="5" fill="#666" opacity="0.4" filter="url(#b3)"/>
<rect x="597.60" y="88.50" width="20" height="2.8" rx="1.40" fill="#444" opacity="0.58" filter="url(#b1)"/>
<rect x="600.10" y="95.00" width="15" height="2.4" rx="1.20" fill="#555" opacity="0.3" filter="url(#b1)"/>
<rect x="625.00" y="88.90" width="18" height="2.8" rx="1.40" fill="#444" opacity="0.5" filter="url(#b1)"/>
<rect x="625.00" y="94.90" width="18" height="3" rx="1.50" fill="#333" opacity="0.62" filter="url(#b1)"/>
<rect x="652.10" y="88.70" width="15" height="2.4" rx="1.20" fill="#555" opacity="0.2" filter="url(#b1)"/>
<rect x="650.60" y="94.80" width="18" height="3" rx="1.50" fill="#383838" opacity="0.58" filter="url(#b1)"/>
<rect x="676.00" y="88.70" width="18" height="2.6" rx="1.30" fill="#444" opacity="0.48" filter="url(#b1)"/>
<rect x="678.00" y="95.00" width="14" height="2.4" rx="1.20" fill="#4a4a4a" opacity="0.35" filter="url(#b1)"/>
<rect x="701.00" y="88.80" width="18" height="2.8" rx="1.40" fill="#444" opacity="0.5" filter="url(#b1)"/>
<rect x="701.50" y="95.00" width="17" height="3" rx="1.50" fill="#333" opacity="0.6" filter="url(#b1)"/>
<rect x="679.40" y="84.60" width="1.2" height="1.2" rx="0.60" fill="#222" opacity="0.9" filter="url(#b0)"/>
<rect x="684.90" y="85.00" width="1.2" height="1.2" rx="0.60" fill="#222" opacity="0.9" filter="url(#b0)"/>
</g>
<rect x="594.6" y="82.8" width="131.00" height="20.60" fill="none" stroke="#707070" stroke-width="0.9"/>
<clipPath id="c4"><rect x="594.6" y="108.7" width="131.00" height="25.50"/></clipPath>
<rect x="594.6" y="108.7" width="131.00" height="25.50" fill="#a0a0a0"/>
<g clip-path="url(#c4)">
<rect x="590" y="106" width="140" height="4" fill="#666" opacity="0.35" filter="url(#b3)"/>
<rect x="598.10" y="112.90" width="19" height="4.6" rx="2.30" fill="#444" opacity="0.7" filter="url(#b2)"/>
<rect x="598.10" y="123.70" width="19" height="4.6" rx="2.30" fill="#5a5a5a" opacity="0.5" filter="url(#b2)"/>
<rect x="625.00" y="113.40" width="18" height="4" rx="2.00" fill="#666" opacity="0.38" filter="url(#b2)"/>
<rect x="625.50" y="124.20" width="17" height="4" rx="2.00" fill="#777" opacity="0.25" filter="url(#b2)"/>
<rect x="649.60" y="112.50" width="20" height="5" rx="2.50" fill="#333" opacity="0.82" filter="url(#b2)"/>
<rect x="650.10" y="118.50" width="19" height="4" rx="2.00" fill="#555" opacity="0.35" filter="url(#b2)"/>
<rect x="649.60" y="123.50" width="20" height="5" rx="2.50" fill="#3a3a3a" opacity="0.72" filter="url(#b2)"/>
<rect x="676.00" y="113.30" width="18" height="3.8" rx="1.90" fill="#555" opacity="0.55" filter="url(#b2)"/>
<rect x="676.50" y="124.00" width="17" height="4" rx="2.00" fill="#777" opacity="0.3" filter="url(#b2)"/>
<rect x="711.00" y="114.00" width="8" height="14" rx="7.00" fill="#8a8a8a" opacity="0.35" filter="url(#b2)"/>
<rect x="697.05" y="112.65" width="1.3" height="1.3" rx="0.65" fill="#111" opacity="1" filter="url(#b0)"/>
</g>
<rect x="594.6" y="108.7" width="131.00" height="25.50" fill="none" stroke="#707070" stroke-width="0.9"/>
<clipPath id="c5"><rect x="593.2" y="139" width="132.40" height="16.20"/></clipPath>
<rect x="593.2" y="139" width="132.40" height="16.20" fill="#e8e8e8"/>
<g clip-path="url(#c5)">
<path d="M599.70 147.05 Q607.60 148.05 615.50 147.05" fill="none" stroke="#000" stroke-width="3.2" stroke-linecap="round" opacity="1" filter="url(#b0)"/>
<path d="M626.35 147.75 Q634.00 148.75 641.65 147.75" fill="none" stroke="#000" stroke-width="3.2" stroke-linecap="round" opacity="1" filter="url(#b0)"/>
<path d="M652.80 147.95 Q659.60 148.95 666.40 147.95" fill="none" stroke="#111" stroke-width="2.4" stroke-linecap="round" opacity="0.95" filter="url(#b0)"/>
<path d="M676.95 146.95 Q685.00 147.95 693.05 146.95" fill="none" stroke="#000" stroke-width="3.4" stroke-linecap="round" opacity="1" filter="url(#b0)"/>
<path d="M702.80 147.55 Q710.00 148.55 717.20 147.55" fill="none" stroke="#000" stroke-width="2.6" stroke-linecap="round" opacity="1" filter="url(#b0)"/>
</g>
<rect x="593.2" y="139" width="132.40" height="16.20" fill="none" stroke="#707070" stroke-width="0.9"/>
<line x1="598.3" y1="156.9" x2="720.3" y2="156.9" stroke="#7a7a7a" stroke-width="0.8"/>
<text transform="translate(660 167.2) scale(0.9 1)" font-size="8.4" font-weight="bold" text-anchor="middle">+IFN</text>
<text transform="translate(730.2 44.400000000000006) scale(0.88 1)" font-size="8.5" font-weight="bold" text-anchor="start">NS5</text>
<text transform="translate(730.2 70.3) scale(0.88 1)" font-size="8.5" font-weight="bold" text-anchor="start">ENV</text>
<text transform="translate(730.2 95.9) scale(0.88 1)" font-size="8.5" font-weight="bold" text-anchor="start">APOL1</text>
<text transform="translate(730.2 124.3) scale(0.88 1)" font-size="8.5" font-weight="bold" text-anchor="start">USP18</text>
<text transform="translate(730.2 150.6) scale(0.88 1)" font-size="8.5" font-weight="bold" text-anchor="start">actin</text>
<text transform="translate(608 29.5) rotate(-40) scale(0.84 1)" font-size="8.2" font-weight="bold" text-anchor="start">si NT ni</text>
<text transform="translate(631.5 29.5) rotate(-40) scale(0.84 1)" font-size="8.2" font-weight="bold" text-anchor="start">si NT</text>
<text transform="translate(658 29.5) rotate(-40) scale(0.84 1)" font-size="8.2" font-weight="bold" text-anchor="start">si APOL1</text>
<text transform="translate(683 29.5) rotate(-40) scale(0.84 1)" font-size="8.2" font-weight="bold" text-anchor="start">si APOL3</text>
<text transform="translate(710.5 29.5) rotate(-40) scale(0.84 1)" font-size="8.2" font-weight="bold" text-anchor="start">si USP18</text>
<path d="M586.6 89.7 L590.2 89.7" stroke="#000" stroke-width="0.8"/><path d="M589 87.9 L592 89.7 L589 91.5 Z" fill="#000"/>
<clipPath id="c6"><rect x="592.2" y="203.3" width="131.40" height="18.90"/></clipPath>
<rect x="592.2" y="203.3" width="131.40" height="18.90" fill="#dadada"/>
<g clip-path="url(#c6)">
<rect x="596.80" y="208.30" width="19" height="2.4" rx="1.20" fill="#999" opacity="0.32" filter="url(#b1)"/>
<rect x="596.80" y="214.30" width="19" height="2.4" rx="1.20" fill="#999" opacity="0.22" filter="url(#b1)"/>
<rect x="621.30" y="208.80" width="19" height="2.4" rx="1.20" fill="#888" opacity="0.4" filter="url(#b1)"/>
<path d="M623.20 214.55 Q630.80 215.55 638.40 214.55" fill="none" stroke="#555" stroke-width="2.8" stroke-linecap="round" opacity="0.8" filter="url(#b1)"/>
<rect x="646.50" y="209.30" width="19" height="2.4" rx="1.20" fill="#999" opacity="0.32" filter="url(#b1)"/>
<rect x="646.50" y="214.80" width="19" height="2.4" rx="1.20" fill="#999" opacity="0.27" filter="url(#b1)"/>
<rect x="671.80" y="208.80" width="19" height="2.4" rx="1.20" fill="#999" opacity="0.32" filter="url(#b1)"/>
<rect x="671.80" y="214.30" width="19" height="2.4" rx="1.20" fill="#999" opacity="0.27" filter="url(#b1)"/>
<rect x="698.50" y="209.80" width="19" height="2.4" rx="1.20" fill="#999" opacity="0.32" filter="url(#b1)"/>
<rect x="699.50" y="215.60" width="17" height="2.4" rx="1.20" fill="#888" opacity="0.32" filter="url(#b1)"/>
</g>
<rect x="592.2" y="203.3" width="131.40" height="18.90" fill="none" stroke="#707070" stroke-width="0.9"/>
<clipPath id="c7"><rect x="592.2" y="226.4" width="131.40" height="19.20"/></clipPath>
<rect x="592.2" y="226.4" width="131.40" height="19.20" fill="#e4e4e4"/>
<g clip-path="url(#c7)">
<rect x="620.55" y="229.90" width="20.5" height="7.6" rx="3.80" fill="#000" opacity="1" filter="url(#b0)"/>
<rect x="621.80" y="230.70" width="18" height="6" rx="3.00" fill="#000" opacity="1" filter="url(#b0)"/>
<rect x="647.00" y="233.20" width="18" height="4.6" rx="2.30" fill="#4a4a4a" opacity="0.88" filter="url(#b1)"/>
<rect x="672.30" y="234.20" width="18" height="4.4" rx="2.20" fill="#6a6a6a" opacity="0.85" filter="url(#b1)"/>
<rect x="699.50" y="235.20" width="17" height="3.2" rx="1.60" fill="#aaa" opacity="0.55" filter="url(#b1)"/>
<rect x="597.70" y="231.50" width="1.6" height="1.6" rx="0.80" fill="#aaa" opacity="0.8" filter="url(#b0)"/>
</g>
<rect x="592.2" y="226.4" width="131.40" height="19.20" fill="none" stroke="#707070" stroke-width="0.9"/>
<clipPath id="c8"><rect x="592.2" y="249.7" width="131.40" height="20.30"/></clipPath>
<rect x="592.2" y="249.7" width="131.40" height="20.30" fill="#9b9b9b"/>
<g clip-path="url(#c8)">
<rect x="588" y="247" width="9" height="26" fill="#666" opacity="0.45" filter="url(#b3)"/>
<rect x="588" y="268" width="140" height="5" fill="#666" opacity="0.4" filter="url(#b3)"/>
<rect x="596.80" y="252.90" width="19" height="2.8" rx="1.40" fill="#555" opacity="0.6" filter="url(#b1)"/>
<rect x="597.30" y="257.40" width="18" height="2.2" rx="1.10" fill="#777" opacity="0.25" filter="url(#b1)"/>
<rect x="621.55" y="254.70" width="18.5" height="3" rx="1.50" fill="#444" opacity="0.72" filter="url(#b1)"/>
<rect x="621.80" y="259.80" width="18" height="2.4" rx="1.20" fill="#666" opacity="0.4" filter="url(#b1)"/>
<rect x="648.50" y="256.80" width="15" height="2.4" rx="1.20" fill="#777" opacity="0.28" filter="url(#b1)"/>
<rect x="672.30" y="257.10" width="18" height="3" rx="1.50" fill="#555" opacity="0.6" filter="url(#b1)"/>
<rect x="672.30" y="261.40" width="18" height="2.2" rx="1.10" fill="#777" opacity="0.25" filter="url(#b1)"/>
<rect x="698.50" y="257.30" width="19" height="3.4" rx="1.70" fill="#1c1c1c" opacity="0.9" filter="url(#b1)"/>
<rect x="699.00" y="262.50" width="18" height="2.2" rx="1.10" fill="#555" opacity="0.4" filter="url(#b1)"/>
</g>
<rect x="592.2" y="249.7" width="131.40" height="20.30" fill="none" stroke="#707070" stroke-width="0.9"/>
<clipPath id="c9"><rect x="592.2" y="275.7" width="131.40" height="30.30"/></clipPath>
<rect x="592.2" y="275.7" width="131.40" height="30.30" fill="#a2a2a2"/>
<g clip-path="url(#c9)">
<rect x="588" y="273" width="140" height="4" fill="#666" opacity="0.35" filter="url(#b3)"/>
<rect x="596.80" y="286.20" width="19" height="4.6" rx="2.30" fill="#6a6a6a" opacity="0.55" filter="url(#b2)"/>
<rect x="596.80" y="295.90" width="19" height="4.6" rx="2.30" fill="#777" opacity="0.45" filter="url(#b2)"/>
<rect x="621.30" y="283.90" width="19" height="4.6" rx="2.30" fill="#6a6a6a" opacity="0.55" filter="url(#b2)"/>
<rect x="621.30" y="294.40" width="19" height="4.6" rx="2.30" fill="#777" opacity="0.45" filter="url(#b2)"/>
<rect x="646.50" y="281.40" width="19" height="4.6" rx="2.30" fill="#6a6a6a" opacity="0.55" filter="url(#b2)"/>
<rect x="646.50" y="292.50" width="19" height="4.6" rx="2.30" fill="#777" opacity="0.45" filter="url(#b2)"/>
<rect x="671.80" y="279.10" width="19" height="4.6" rx="2.30" fill="#666" opacity="0.6" filter="url(#b2)"/>
<rect x="671.80" y="290.20" width="19" height="4.6" rx="2.30" fill="#707070" opacity="0.5" filter="url(#b2)"/>
<rect x="699.50" y="279.90" width="17" height="3" rx="1.50" fill="#888" opacity="0.35" filter="url(#b2)"/>
</g>
<rect x="592.2" y="275.7" width="131.40" height="30.30" fill="none" stroke="#707070" stroke-width="0.9"/>
<clipPath id="c10"><rect x="592.2" y="308.6" width="131.40" height="25.00"/></clipPath>
<rect x="592.2" y="308.6" width="131.40" height="25.00" fill="#e6e6e6"/>
<g clip-path="url(#c10)">
<path d="M600.75 322.75 Q607.70 326.15 614.65 322.75" fill="none" stroke="#2a2a2a" stroke-width="6.6" stroke-linecap="round" opacity="1" filter="url(#b0)"/>
<path d="M625.45 321.35 Q632.40 324.75 639.35 321.35" fill="none" stroke="#2a2a2a" stroke-width="6.6" stroke-linecap="round" opacity="1" filter="url(#b0)"/>
<path d="M649.45 319.15 Q656.50 322.15 663.55 319.15" fill="none" stroke="#2e2e2e" stroke-width="6.4" stroke-linecap="round" opacity="1" filter="url(#b0)"/>
<path d="M674.05 316.45 Q681.30 319.05 688.55 316.45" fill="none" stroke="#333" stroke-width="6" stroke-linecap="round" opacity="1" filter="url(#b0)"/>
<path d="M702.75 316.15 Q710.00 318.75 717.25 316.15" fill="none" stroke="#333" stroke-width="6" stroke-linecap="round" opacity="1" filter="url(#b0)"/>
</g>
<rect x="592.2" y="308.6" width="131.40" height="25.00" fill="none" stroke="#707070" stroke-width="0.9"/>
<line x1="596" y1="336.1" x2="717.5" y2="336.1" stroke="#7a7a7a" stroke-width="0.8"/>
<text transform="translate(657.6 345.9) scale(0.9 1)" font-size="8.4" font-weight="bold" text-anchor="middle">+IFN</text>
<text transform="translate(726.8 215.79999999999998) scale(0.88 1)" font-size="8.5" font-weight="bold" text-anchor="start">NS5</text>
<text transform="translate(726.8 238.89999999999998) scale(0.88 1)" font-size="8.5" font-weight="bold" text-anchor="start">ENV</text>
<text transform="translate(726.8 263.09999999999997) scale(0.88 1)" font-size="8.5" font-weight="bold" text-anchor="start">APOL1</text>
<text transform="translate(726.8 294.3) scale(0.88 1)" font-size="8.5" font-weight="bold" text-anchor="start">USP18</text>
<text transform="translate(726.8 322.3) scale(0.88 1)" font-size="8.5" font-weight="bold" text-anchor="start">actin</text>
<text transform="translate(607.8 201.3) rotate(-40) scale(0.84 1)" font-size="8.2" font-weight="bold" text-anchor="start">si NT ni</text>
<text transform="translate(631.5 201.3) rotate(-40) scale(0.84 1)" font-size="8.2" font-weight="bold" text-anchor="start">si NT</text>
<text transform="translate(656 201.3) rotate(-40) scale(0.84 1)" font-size="8.2" font-weight="bold" text-anchor="start">si APOL1</text>
<text transform="translate(680.2 201.3) rotate(-40) scale(0.84 1)" font-size="8.2" font-weight="bold" text-anchor="start">si APOL3</text>
<text transform="translate(706.2 201.3) rotate(-40) scale(0.84 1)" font-size="8.2" font-weight="bold" text-anchor="start">si USP18</text>
</g>
</svg>
</body></html>
